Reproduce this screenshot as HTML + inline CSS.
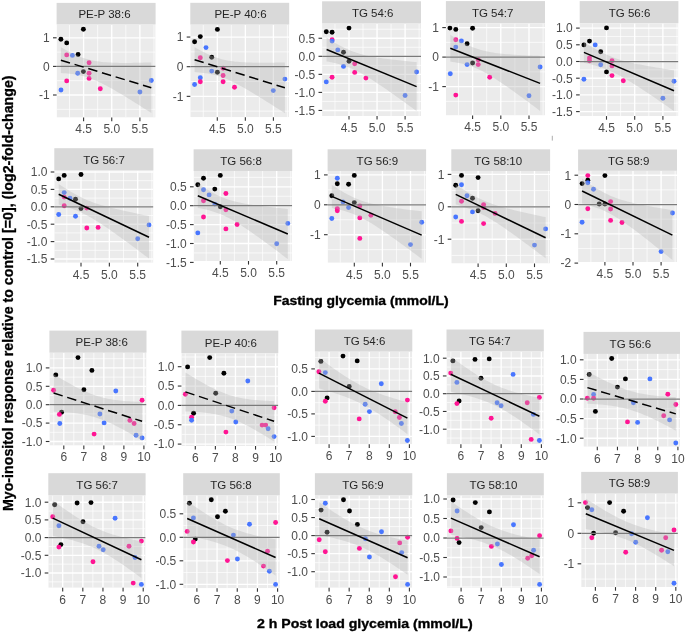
<!DOCTYPE html>
<html><head><meta charset="utf-8"><title>Myo-inositol response</title>
<style>html,body{margin:0;padding:0;background:#fff;width:685px;height:633px;overflow:hidden;font-family:"Liberation Sans",sans-serif}svg{display:block;will-change:transform}</style>
</head><body>
<svg width="685" height="633" viewBox="0 0 685 633" font-family="'Liberation Sans', sans-serif">
<rect width="685" height="633" fill="#fff"/>
<clipPath id="c0"><rect x="56.6" y="24.5" width="99" height="93.1"/></clipPath>
<g clip-path="url(#c0)">
<rect x="56.6" y="24.5" width="99" height="93.1" fill="#EBEBEB"/>
<line x1="69.52" y1="24.5" x2="69.52" y2="117.6" stroke="#fff" stroke-width="0.7"/>
<line x1="97.67" y1="24.5" x2="97.67" y2="117.6" stroke="#fff" stroke-width="0.7"/>
<line x1="125.83" y1="24.5" x2="125.83" y2="117.6" stroke="#fff" stroke-width="0.7"/>
<line x1="153.98" y1="24.5" x2="153.98" y2="117.6" stroke="#fff" stroke-width="0.7"/>
<line x1="56.6" y1="23.5" x2="155.6" y2="23.5" stroke="#fff" stroke-width="0.7"/>
<line x1="56.6" y1="52.1" x2="155.6" y2="52.1" stroke="#fff" stroke-width="0.7"/>
<line x1="56.6" y1="80.7" x2="155.6" y2="80.7" stroke="#fff" stroke-width="0.7"/>
<line x1="56.6" y1="109.3" x2="155.6" y2="109.3" stroke="#fff" stroke-width="0.7"/>
<line x1="56.6" y1="137.9" x2="155.6" y2="137.9" stroke="#fff" stroke-width="0.7"/>
<line x1="55.45" y1="24.5" x2="55.45" y2="117.6" stroke="#fff" stroke-width="1.35"/>
<line x1="83.6" y1="24.5" x2="83.6" y2="117.6" stroke="#fff" stroke-width="1.35"/>
<line x1="111.75" y1="24.5" x2="111.75" y2="117.6" stroke="#fff" stroke-width="1.35"/>
<line x1="139.9" y1="24.5" x2="139.9" y2="117.6" stroke="#fff" stroke-width="1.35"/>
<line x1="168.05" y1="24.5" x2="168.05" y2="117.6" stroke="#fff" stroke-width="1.35"/>
<line x1="56.6" y1="9.2" x2="155.6" y2="9.2" stroke="#fff" stroke-width="1.35"/>
<line x1="56.6" y1="37.8" x2="155.6" y2="37.8" stroke="#fff" stroke-width="1.35"/>
<line x1="56.6" y1="66.4" x2="155.6" y2="66.4" stroke="#fff" stroke-width="1.35"/>
<line x1="56.6" y1="95" x2="155.6" y2="95" stroke="#fff" stroke-width="1.35"/>
<line x1="56.6" y1="123.6" x2="155.6" y2="123.6" stroke="#fff" stroke-width="1.35"/>
<circle cx="60.9" cy="39.3" r="2.45" fill="#000000"/>
<circle cx="66.7" cy="42.9" r="2.45" fill="#000000"/>
<circle cx="83.4" cy="29.3" r="2.45" fill="#000000"/>
<circle cx="78.1" cy="54.5" r="2.45" fill="#000000"/>
<circle cx="66.7" cy="54.9" r="2.45" fill="#FF1493"/>
<circle cx="72.4" cy="55.4" r="2.45" fill="#4876FF"/>
<circle cx="89.1" cy="62.8" r="2.45" fill="#FF1493"/>
<circle cx="83.4" cy="71.6" r="2.45" fill="#000000"/>
<circle cx="77.7" cy="73.3" r="2.45" fill="#4876FF"/>
<circle cx="89.1" cy="73.3" r="2.45" fill="#FF1493"/>
<circle cx="89.1" cy="78.4" r="2.45" fill="#FF1493"/>
<circle cx="66.7" cy="80.9" r="2.45" fill="#FF1493"/>
<circle cx="61" cy="90" r="2.45" fill="#4876FF"/>
<circle cx="100.3" cy="88.8" r="2.45" fill="#FF1493"/>
<circle cx="139.9" cy="92" r="2.45" fill="#4876FF"/>
<circle cx="151.3" cy="80.5" r="2.45" fill="#4876FF"/>
<path d="M60.9 47.37 L63.16 48.62 L65.42 49.84 L67.68 51.03 L69.94 52.18 L72.2 53.28 L74.46 54.34 L76.72 55.34 L78.98 56.27 L81.24 57.15 L83.5 57.95 L85.76 58.68 L88.02 59.34 L90.28 59.93 L92.54 60.44 L94.8 60.89 L97.06 61.28 L99.32 61.61 L101.58 61.89 L103.84 62.13 L106.1 62.32 L108.36 62.48 L110.62 62.61 L112.88 62.71 L115.14 62.79 L117.4 62.85 L119.66 62.9 L121.92 62.92 L124.18 62.93 L126.44 62.93 L128.7 62.92 L130.96 62.9 L133.22 62.87 L135.48 62.83 L137.74 62.79 L140 62.74 L142.26 62.68 L144.52 62.62 L146.78 62.56 L149.04 62.49 L151.3 62.42 L151.3 112.98 L149.04 111.53 L146.78 110.09 L144.52 108.65 L142.26 107.22 L140 105.78 L137.74 104.36 L135.48 102.94 L133.22 101.53 L130.96 100.12 L128.7 98.73 L126.44 97.34 L124.18 95.97 L121.92 94.6 L119.66 93.25 L117.4 91.92 L115.14 90.61 L112.88 89.31 L110.62 88.04 L108.36 86.79 L106.1 85.58 L103.84 84.4 L101.58 83.26 L99.32 82.17 L97.06 81.12 L94.8 80.13 L92.54 79.21 L90.28 78.35 L88.02 77.56 L85.76 76.84 L83.5 76.2 L81.24 75.63 L78.98 75.13 L76.72 74.69 L74.46 74.31 L72.2 73.99 L69.94 73.72 L67.68 73.5 L65.42 73.31 L63.16 73.15 L60.9 73.03 Z" fill="#B4B4B4" fill-opacity="0.35"/>
<line x1="56.6" y1="66.4" x2="155.6" y2="66.4" stroke="#7A7A7A" stroke-width="1.25"/>
<line x1="60.9" y1="60.2" x2="151.3" y2="87.7" stroke="#000" stroke-width="1.5" stroke-dasharray="9.5 4.8"/>
</g>
<rect x="56.6" y="2.9" width="99" height="21.6" fill="#D9D9D9"/>
<text x="104.5" y="18.4" font-size="11.5" fill="#262626" text-anchor="middle">PE-P 38:6</text>
<line x1="53" y1="37.8" x2="56.6" y2="37.8" stroke="#333333" stroke-width="1.1"/>
<text x="49.7" y="42.1" font-size="12" fill="#4D4D4D" text-anchor="end">1</text>
<line x1="53" y1="66.4" x2="56.6" y2="66.4" stroke="#333333" stroke-width="1.1"/>
<text x="49.7" y="70.7" font-size="12" fill="#4D4D4D" text-anchor="end">0</text>
<line x1="53" y1="95" x2="56.6" y2="95" stroke="#333333" stroke-width="1.1"/>
<text x="49.7" y="99.3" font-size="12" fill="#4D4D4D" text-anchor="end">-1</text>
<line x1="83.6" y1="117.6" x2="83.6" y2="121.2" stroke="#333333" stroke-width="1.1"/>
<text x="83.6" y="133.4" font-size="12" fill="#4D4D4D" text-anchor="middle">4.5</text>
<line x1="111.75" y1="117.6" x2="111.75" y2="121.2" stroke="#333333" stroke-width="1.1"/>
<text x="111.75" y="133.4" font-size="12" fill="#4D4D4D" text-anchor="middle">5.0</text>
<line x1="139.9" y1="117.6" x2="139.9" y2="121.2" stroke="#333333" stroke-width="1.1"/>
<text x="139.9" y="133.4" font-size="12" fill="#4D4D4D" text-anchor="middle">5.5</text>
<clipPath id="c1"><rect x="190.3" y="24.6" width="98.9" height="92.6"/></clipPath>
<g clip-path="url(#c1)">
<rect x="190.3" y="24.6" width="98.9" height="92.6" fill="#EBEBEB"/>
<line x1="203.28" y1="24.6" x2="203.28" y2="117.2" stroke="#fff" stroke-width="0.7"/>
<line x1="231.32" y1="24.6" x2="231.32" y2="117.2" stroke="#fff" stroke-width="0.7"/>
<line x1="259.38" y1="24.6" x2="259.38" y2="117.2" stroke="#fff" stroke-width="0.7"/>
<line x1="287.42" y1="24.6" x2="287.42" y2="117.2" stroke="#fff" stroke-width="0.7"/>
<line x1="190.3" y1="22.23" x2="289.2" y2="22.23" stroke="#fff" stroke-width="0.7"/>
<line x1="190.3" y1="51.88" x2="289.2" y2="51.88" stroke="#fff" stroke-width="0.7"/>
<line x1="190.3" y1="81.53" x2="289.2" y2="81.53" stroke="#fff" stroke-width="0.7"/>
<line x1="190.3" y1="111.17" x2="289.2" y2="111.17" stroke="#fff" stroke-width="0.7"/>
<line x1="190.3" y1="140.82" x2="289.2" y2="140.82" stroke="#fff" stroke-width="0.7"/>
<line x1="189.25" y1="24.6" x2="189.25" y2="117.2" stroke="#fff" stroke-width="1.35"/>
<line x1="217.3" y1="24.6" x2="217.3" y2="117.2" stroke="#fff" stroke-width="1.35"/>
<line x1="245.35" y1="24.6" x2="245.35" y2="117.2" stroke="#fff" stroke-width="1.35"/>
<line x1="273.4" y1="24.6" x2="273.4" y2="117.2" stroke="#fff" stroke-width="1.35"/>
<line x1="301.45" y1="24.6" x2="301.45" y2="117.2" stroke="#fff" stroke-width="1.35"/>
<line x1="190.3" y1="7.4" x2="289.2" y2="7.4" stroke="#fff" stroke-width="1.35"/>
<line x1="190.3" y1="37.05" x2="289.2" y2="37.05" stroke="#fff" stroke-width="1.35"/>
<line x1="190.3" y1="66.7" x2="289.2" y2="66.7" stroke="#fff" stroke-width="1.35"/>
<line x1="190.3" y1="96.35" x2="289.2" y2="96.35" stroke="#fff" stroke-width="1.35"/>
<line x1="190.3" y1="126" x2="289.2" y2="126" stroke="#fff" stroke-width="1.35"/>
<circle cx="194.6" cy="41.7" r="2.45" fill="#000000"/>
<circle cx="200.3" cy="36.6" r="2.45" fill="#000000"/>
<circle cx="217.4" cy="29.4" r="2.45" fill="#000000"/>
<circle cx="206" cy="47.6" r="2.45" fill="#4876FF"/>
<circle cx="200.3" cy="57.8" r="2.45" fill="#FF1493"/>
<circle cx="211.7" cy="57.3" r="2.45" fill="#000000"/>
<circle cx="211.7" cy="71.1" r="2.45" fill="#4876FF"/>
<circle cx="217.4" cy="72.2" r="2.45" fill="#000000"/>
<circle cx="223.1" cy="68.2" r="2.45" fill="#FF1493"/>
<circle cx="223.1" cy="75.5" r="2.45" fill="#FF1493"/>
<circle cx="223.1" cy="81.7" r="2.45" fill="#FF1493"/>
<circle cx="200.3" cy="77.7" r="2.45" fill="#4876FF"/>
<circle cx="200.3" cy="81.7" r="2.45" fill="#FF1493"/>
<circle cx="194.6" cy="84.5" r="2.45" fill="#4876FF"/>
<circle cx="234.5" cy="87.2" r="2.45" fill="#FF1493"/>
<circle cx="273.3" cy="90.6" r="2.45" fill="#4876FF"/>
<circle cx="284.9" cy="79.1" r="2.45" fill="#4876FF"/>
<path d="M194.6 47.31 L196.86 48.56 L199.11 49.78 L201.37 50.96 L203.63 52.11 L205.89 53.21 L208.14 54.25 L210.4 55.24 L212.66 56.17 L214.92 57.02 L217.17 57.81 L219.43 58.52 L221.69 59.16 L223.95 59.73 L226.2 60.23 L228.46 60.66 L230.72 61.04 L232.98 61.36 L235.23 61.63 L237.49 61.86 L239.75 62.06 L242.01 62.22 L244.26 62.35 L246.52 62.46 L248.78 62.54 L251.04 62.61 L253.29 62.66 L255.55 62.7 L257.81 62.72 L260.07 62.74 L262.32 62.74 L264.58 62.73 L266.84 62.72 L269.1 62.69 L271.35 62.67 L273.61 62.63 L275.87 62.59 L278.13 62.55 L280.38 62.5 L282.64 62.45 L284.9 62.4 L284.9 113.2 L282.64 111.74 L280.38 110.29 L278.13 108.83 L275.87 107.39 L273.61 105.94 L271.35 104.5 L269.1 103.07 L266.84 101.64 L264.58 100.22 L262.32 98.81 L260.07 97.41 L257.81 96.02 L255.55 94.64 L253.29 93.27 L251.04 91.91 L248.78 90.58 L246.52 89.26 L244.26 87.96 L242.01 86.69 L239.75 85.44 L237.49 84.23 L235.23 83.06 L232.98 81.93 L230.72 80.84 L228.46 79.81 L226.2 78.84 L223.95 77.94 L221.69 77.1 L219.43 76.33 L217.17 75.64 L214.92 75.02 L212.66 74.47 L210.4 73.99 L208.14 73.58 L205.89 73.22 L203.63 72.91 L201.37 72.65 L199.11 72.43 L196.86 72.25 L194.6 72.09 Z" fill="#B4B4B4" fill-opacity="0.35"/>
<line x1="190.3" y1="66.7" x2="289.2" y2="66.7" stroke="#7A7A7A" stroke-width="1.25"/>
<line x1="194.6" y1="59.7" x2="284.9" y2="87.8" stroke="#000" stroke-width="1.5" stroke-dasharray="9.5 4.8"/>
</g>
<rect x="190.3" y="2.8" width="98.9" height="21.8" fill="#D9D9D9"/>
<text x="240.5" y="18.4" font-size="11.5" fill="#262626" text-anchor="middle">PE-P 40:6</text>
<line x1="186.7" y1="37.05" x2="190.3" y2="37.05" stroke="#333333" stroke-width="1.1"/>
<text x="183.4" y="41.35" font-size="12" fill="#4D4D4D" text-anchor="end">1</text>
<line x1="186.7" y1="66.7" x2="190.3" y2="66.7" stroke="#333333" stroke-width="1.1"/>
<text x="183.4" y="71" font-size="12" fill="#4D4D4D" text-anchor="end">0</text>
<line x1="186.7" y1="96.35" x2="190.3" y2="96.35" stroke="#333333" stroke-width="1.1"/>
<text x="183.4" y="100.65" font-size="12" fill="#4D4D4D" text-anchor="end">-1</text>
<line x1="217.3" y1="117.2" x2="217.3" y2="120.8" stroke="#333333" stroke-width="1.1"/>
<text x="217.3" y="133" font-size="12" fill="#4D4D4D" text-anchor="middle">4.5</text>
<line x1="245.35" y1="117.2" x2="245.35" y2="120.8" stroke="#333333" stroke-width="1.1"/>
<text x="245.35" y="133" font-size="12" fill="#4D4D4D" text-anchor="middle">5.0</text>
<line x1="273.4" y1="117.2" x2="273.4" y2="120.8" stroke="#333333" stroke-width="1.1"/>
<text x="273.4" y="133" font-size="12" fill="#4D4D4D" text-anchor="middle">5.5</text>
<clipPath id="c2"><rect x="322.1" y="23.5" width="98.9" height="92.5"/></clipPath>
<g clip-path="url(#c2)">
<rect x="322.1" y="23.5" width="98.9" height="92.5" fill="#EBEBEB"/>
<line x1="334.98" y1="23.5" x2="334.98" y2="116" stroke="#fff" stroke-width="0.7"/>
<line x1="363.02" y1="23.5" x2="363.02" y2="116" stroke="#fff" stroke-width="0.7"/>
<line x1="391.08" y1="23.5" x2="391.08" y2="116" stroke="#fff" stroke-width="0.7"/>
<line x1="419.12" y1="23.5" x2="419.12" y2="116" stroke="#fff" stroke-width="0.7"/>
<line x1="322.1" y1="29.22" x2="421" y2="29.22" stroke="#fff" stroke-width="0.7"/>
<line x1="322.1" y1="47.27" x2="421" y2="47.27" stroke="#fff" stroke-width="0.7"/>
<line x1="322.1" y1="65.33" x2="421" y2="65.33" stroke="#fff" stroke-width="0.7"/>
<line x1="322.1" y1="83.38" x2="421" y2="83.38" stroke="#fff" stroke-width="0.7"/>
<line x1="322.1" y1="101.42" x2="421" y2="101.42" stroke="#fff" stroke-width="0.7"/>
<line x1="322.1" y1="119.47" x2="421" y2="119.47" stroke="#fff" stroke-width="0.7"/>
<line x1="322.1" y1="137.53" x2="421" y2="137.53" stroke="#fff" stroke-width="0.7"/>
<line x1="320.95" y1="23.5" x2="320.95" y2="116" stroke="#fff" stroke-width="1.35"/>
<line x1="349" y1="23.5" x2="349" y2="116" stroke="#fff" stroke-width="1.35"/>
<line x1="377.05" y1="23.5" x2="377.05" y2="116" stroke="#fff" stroke-width="1.35"/>
<line x1="405.1" y1="23.5" x2="405.1" y2="116" stroke="#fff" stroke-width="1.35"/>
<line x1="433.15" y1="23.5" x2="433.15" y2="116" stroke="#fff" stroke-width="1.35"/>
<line x1="322.1" y1="20.2" x2="421" y2="20.2" stroke="#fff" stroke-width="1.35"/>
<line x1="322.1" y1="38.25" x2="421" y2="38.25" stroke="#fff" stroke-width="1.35"/>
<line x1="322.1" y1="56.3" x2="421" y2="56.3" stroke="#fff" stroke-width="1.35"/>
<line x1="322.1" y1="74.35" x2="421" y2="74.35" stroke="#fff" stroke-width="1.35"/>
<line x1="322.1" y1="92.4" x2="421" y2="92.4" stroke="#fff" stroke-width="1.35"/>
<line x1="322.1" y1="110.45" x2="421" y2="110.45" stroke="#fff" stroke-width="1.35"/>
<line x1="322.1" y1="128.5" x2="421" y2="128.5" stroke="#fff" stroke-width="1.35"/>
<circle cx="326.3" cy="31.8" r="2.45" fill="#000000"/>
<circle cx="332.1" cy="32.2" r="2.45" fill="#000000"/>
<circle cx="349" cy="28.1" r="2.45" fill="#000000"/>
<circle cx="332.1" cy="39.8" r="2.45" fill="#FF1493"/>
<circle cx="332.1" cy="41.1" r="2.45" fill="#4876FF"/>
<circle cx="337.8" cy="49.9" r="2.45" fill="#4876FF"/>
<circle cx="343.5" cy="52.3" r="2.45" fill="#000000"/>
<circle cx="349" cy="61.2" r="2.45" fill="#000000"/>
<circle cx="354.7" cy="63.7" r="2.45" fill="#FF1493"/>
<circle cx="343.5" cy="66.4" r="2.45" fill="#4876FF"/>
<circle cx="354.7" cy="72.4" r="2.45" fill="#FF1493"/>
<circle cx="332.1" cy="77.2" r="2.45" fill="#FF1493"/>
<circle cx="365.9" cy="78.1" r="2.45" fill="#FF1493"/>
<circle cx="326.3" cy="81.9" r="2.45" fill="#4876FF"/>
<circle cx="405.1" cy="95.5" r="2.45" fill="#4876FF"/>
<circle cx="416.6" cy="72" r="2.45" fill="#4876FF"/>
<path d="M326.6 37.59 L328.85 39.03 L331.1 40.43 L333.35 41.8 L335.6 43.13 L337.85 44.42 L340.1 45.65 L342.35 46.83 L344.6 47.95 L346.85 49.01 L349.1 50 L351.35 50.92 L353.6 51.78 L355.85 52.57 L358.1 53.29 L360.35 53.96 L362.6 54.57 L364.85 55.13 L367.1 55.65 L369.35 56.13 L371.6 56.57 L373.85 56.99 L376.1 57.37 L378.35 57.74 L380.6 58.08 L382.85 58.41 L385.1 58.71 L387.35 59.01 L389.6 59.29 L391.85 59.57 L394.1 59.83 L396.35 60.08 L398.6 60.33 L400.85 60.57 L403.1 60.8 L405.35 61.03 L407.6 61.25 L409.85 61.47 L412.1 61.68 L414.35 61.89 L416.6 62.1 L416.6 111.1 L414.35 109.45 L412.1 107.81 L409.85 106.16 L407.6 104.53 L405.35 102.9 L403.1 101.27 L400.85 99.65 L398.6 98.03 L396.35 96.42 L394.1 94.82 L391.85 93.23 L389.6 91.65 L387.35 90.07 L385.1 88.52 L382.85 86.97 L380.6 85.44 L378.35 83.93 L376.1 82.44 L373.85 80.97 L371.6 79.53 L369.35 78.12 L367.1 76.74 L364.85 75.4 L362.6 74.11 L360.35 72.87 L358.1 71.68 L355.85 70.55 L353.6 69.48 L351.35 68.48 L349.1 67.55 L346.85 66.68 L344.6 65.89 L342.35 65.15 L340.1 64.48 L337.85 63.86 L335.6 63.29 L333.35 62.76 L331.1 62.28 L328.85 61.83 L326.6 61.41 Z" fill="#B4B4B4" fill-opacity="0.35"/>
<line x1="322.1" y1="56.3" x2="421" y2="56.3" stroke="#7A7A7A" stroke-width="1.25"/>
<line x1="326.6" y1="49.5" x2="416.6" y2="86.6" stroke="#000" stroke-width="1.5"/>
</g>
<rect x="322.1" y="1.3" width="98.9" height="22.2" fill="#D9D9D9"/>
<text x="372.7" y="17.1" font-size="11.5" fill="#262626" text-anchor="middle">TG 54:6</text>
<line x1="318.5" y1="38.25" x2="322.1" y2="38.25" stroke="#333333" stroke-width="1.1"/>
<text x="315.2" y="42.55" font-size="12" fill="#4D4D4D" text-anchor="end">0.5</text>
<line x1="318.5" y1="56.3" x2="322.1" y2="56.3" stroke="#333333" stroke-width="1.1"/>
<text x="315.2" y="60.6" font-size="12" fill="#4D4D4D" text-anchor="end">0.0</text>
<line x1="318.5" y1="74.35" x2="322.1" y2="74.35" stroke="#333333" stroke-width="1.1"/>
<text x="315.2" y="78.65" font-size="12" fill="#4D4D4D" text-anchor="end">-0.5</text>
<line x1="318.5" y1="92.4" x2="322.1" y2="92.4" stroke="#333333" stroke-width="1.1"/>
<text x="315.2" y="96.7" font-size="12" fill="#4D4D4D" text-anchor="end">-1.0</text>
<line x1="318.5" y1="110.45" x2="322.1" y2="110.45" stroke="#333333" stroke-width="1.1"/>
<text x="315.2" y="114.75" font-size="12" fill="#4D4D4D" text-anchor="end">-1.5</text>
<line x1="349" y1="116" x2="349" y2="119.6" stroke="#333333" stroke-width="1.1"/>
<text x="349" y="131.8" font-size="12" fill="#4D4D4D" text-anchor="middle">4.5</text>
<line x1="377.05" y1="116" x2="377.05" y2="119.6" stroke="#333333" stroke-width="1.1"/>
<text x="377.05" y="131.8" font-size="12" fill="#4D4D4D" text-anchor="middle">5.0</text>
<line x1="405.1" y1="116" x2="405.1" y2="119.6" stroke="#333333" stroke-width="1.1"/>
<text x="405.1" y="131.8" font-size="12" fill="#4D4D4D" text-anchor="middle">5.5</text>
<clipPath id="c3"><rect x="445.9" y="23.2" width="99.1" height="92.3"/></clipPath>
<g clip-path="url(#c3)">
<rect x="445.9" y="23.2" width="99.1" height="92.3" fill="#EBEBEB"/>
<line x1="458.5" y1="23.2" x2="458.5" y2="115.5" stroke="#fff" stroke-width="0.7"/>
<line x1="486.7" y1="23.2" x2="486.7" y2="115.5" stroke="#fff" stroke-width="0.7"/>
<line x1="514.9" y1="23.2" x2="514.9" y2="115.5" stroke="#fff" stroke-width="0.7"/>
<line x1="543.1" y1="23.2" x2="543.1" y2="115.5" stroke="#fff" stroke-width="0.7"/>
<line x1="445.9" y1="12.85" x2="545" y2="12.85" stroke="#fff" stroke-width="0.7"/>
<line x1="445.9" y1="42.35" x2="545" y2="42.35" stroke="#fff" stroke-width="0.7"/>
<line x1="445.9" y1="71.85" x2="545" y2="71.85" stroke="#fff" stroke-width="0.7"/>
<line x1="445.9" y1="101.35" x2="545" y2="101.35" stroke="#fff" stroke-width="0.7"/>
<line x1="445.9" y1="130.85" x2="545" y2="130.85" stroke="#fff" stroke-width="0.7"/>
<line x1="444.4" y1="23.2" x2="444.4" y2="115.5" stroke="#fff" stroke-width="1.35"/>
<line x1="472.6" y1="23.2" x2="472.6" y2="115.5" stroke="#fff" stroke-width="1.35"/>
<line x1="500.8" y1="23.2" x2="500.8" y2="115.5" stroke="#fff" stroke-width="1.35"/>
<line x1="529" y1="23.2" x2="529" y2="115.5" stroke="#fff" stroke-width="1.35"/>
<line x1="557.2" y1="23.2" x2="557.2" y2="115.5" stroke="#fff" stroke-width="1.35"/>
<line x1="445.9" y1="-1.9" x2="545" y2="-1.9" stroke="#fff" stroke-width="1.35"/>
<line x1="445.9" y1="27.6" x2="545" y2="27.6" stroke="#fff" stroke-width="1.35"/>
<line x1="445.9" y1="57.1" x2="545" y2="57.1" stroke="#fff" stroke-width="1.35"/>
<line x1="445.9" y1="86.6" x2="545" y2="86.6" stroke="#fff" stroke-width="1.35"/>
<line x1="445.9" y1="116.1" x2="545" y2="116.1" stroke="#fff" stroke-width="1.35"/>
<circle cx="449.9" cy="28.1" r="2.45" fill="#000000"/>
<circle cx="455.8" cy="29.4" r="2.45" fill="#000000"/>
<circle cx="472.6" cy="28.3" r="2.45" fill="#000000"/>
<circle cx="467.1" cy="43.8" r="2.45" fill="#000000"/>
<circle cx="455.8" cy="39.8" r="2.45" fill="#FF1493"/>
<circle cx="461.4" cy="40.9" r="2.45" fill="#4876FF"/>
<circle cx="455.8" cy="47.1" r="2.45" fill="#4876FF"/>
<circle cx="478.2" cy="59.7" r="2.45" fill="#FF1493"/>
<circle cx="472.6" cy="63" r="2.45" fill="#000000"/>
<circle cx="478.2" cy="64.6" r="2.45" fill="#FF1493"/>
<circle cx="467.1" cy="64.6" r="2.45" fill="#4876FF"/>
<circle cx="450.3" cy="73.7" r="2.45" fill="#4876FF"/>
<circle cx="489.7" cy="77.2" r="2.45" fill="#FF1493"/>
<circle cx="455.8" cy="95.1" r="2.45" fill="#FF1493"/>
<circle cx="529" cy="95.8" r="2.45" fill="#4876FF"/>
<circle cx="540.1" cy="67" r="2.45" fill="#4876FF"/>
<path d="M450.3 34.8 L452.55 36.26 L454.79 37.67 L457.04 39.05 L459.28 40.38 L461.53 41.66 L463.77 42.89 L466.01 44.05 L468.26 45.15 L470.5 46.17 L472.75 47.13 L475 48 L477.24 48.8 L479.49 49.52 L481.73 50.18 L483.98 50.76 L486.22 51.29 L488.47 51.76 L490.71 52.18 L492.96 52.56 L495.2 52.9 L497.44 53.2 L499.69 53.47 L501.94 53.72 L504.18 53.94 L506.43 54.15 L508.67 54.33 L510.92 54.51 L513.16 54.66 L515.4 54.81 L517.65 54.94 L519.89 55.06 L522.14 55.18 L524.38 55.29 L526.63 55.39 L528.88 55.48 L531.12 55.57 L533.37 55.65 L535.61 55.73 L537.86 55.81 L540.1 55.88 L540.1 110.92 L537.86 109.23 L535.61 107.55 L533.37 105.87 L531.12 104.19 L528.88 102.52 L526.63 100.85 L524.38 99.19 L522.14 97.54 L519.89 95.9 L517.65 94.26 L515.4 92.63 L513.16 91.02 L510.92 89.41 L508.67 87.83 L506.43 86.25 L504.18 84.7 L501.94 83.16 L499.69 81.65 L497.44 80.16 L495.2 78.7 L492.96 77.28 L490.71 75.9 L488.47 74.56 L486.22 73.27 L483.98 72.04 L481.73 70.86 L479.49 69.76 L477.24 68.72 L475 67.76 L472.75 66.87 L470.5 66.07 L468.26 65.33 L466.01 64.67 L463.77 64.07 L461.53 63.54 L459.28 63.06 L457.04 62.63 L454.79 62.25 L452.55 61.9 L450.3 61.6 Z" fill="#B4B4B4" fill-opacity="0.35"/>
<line x1="445.9" y1="57.1" x2="545" y2="57.1" stroke="#7A7A7A" stroke-width="1.25"/>
<line x1="450.3" y1="48.2" x2="540.1" y2="83.4" stroke="#000" stroke-width="1.5"/>
</g>
<rect x="445.9" y="1.1" width="99.1" height="22.1" fill="#D9D9D9"/>
<text x="492.7" y="16.85" font-size="11.5" fill="#262626" text-anchor="middle">TG 54:7</text>
<line x1="442.3" y1="27.6" x2="445.9" y2="27.6" stroke="#333333" stroke-width="1.1"/>
<text x="439" y="31.9" font-size="12" fill="#4D4D4D" text-anchor="end">1</text>
<line x1="442.3" y1="57.1" x2="445.9" y2="57.1" stroke="#333333" stroke-width="1.1"/>
<text x="439" y="61.4" font-size="12" fill="#4D4D4D" text-anchor="end">0</text>
<line x1="442.3" y1="86.6" x2="445.9" y2="86.6" stroke="#333333" stroke-width="1.1"/>
<text x="439" y="90.9" font-size="12" fill="#4D4D4D" text-anchor="end">-1</text>
<line x1="472.6" y1="115.5" x2="472.6" y2="119.1" stroke="#333333" stroke-width="1.1"/>
<text x="472.6" y="131.3" font-size="12" fill="#4D4D4D" text-anchor="middle">4.5</text>
<line x1="500.8" y1="115.5" x2="500.8" y2="119.1" stroke="#333333" stroke-width="1.1"/>
<text x="500.8" y="131.3" font-size="12" fill="#4D4D4D" text-anchor="middle">5.0</text>
<line x1="529" y1="115.5" x2="529" y2="119.1" stroke="#333333" stroke-width="1.1"/>
<text x="529" y="131.3" font-size="12" fill="#4D4D4D" text-anchor="middle">5.5</text>
<clipPath id="c4"><rect x="579.7" y="23.2" width="98.7" height="92.9"/></clipPath>
<g clip-path="url(#c4)">
<rect x="579.7" y="23.2" width="98.7" height="92.9" fill="#EBEBEB"/>
<line x1="592.4" y1="23.2" x2="592.4" y2="116.1" stroke="#fff" stroke-width="0.7"/>
<line x1="620.6" y1="23.2" x2="620.6" y2="116.1" stroke="#fff" stroke-width="0.7"/>
<line x1="648.8" y1="23.2" x2="648.8" y2="116.1" stroke="#fff" stroke-width="0.7"/>
<line x1="677" y1="23.2" x2="677" y2="116.1" stroke="#fff" stroke-width="0.7"/>
<line x1="579.7" y1="19.75" x2="678.4" y2="19.75" stroke="#fff" stroke-width="0.7"/>
<line x1="579.7" y1="36.45" x2="678.4" y2="36.45" stroke="#fff" stroke-width="0.7"/>
<line x1="579.7" y1="53.15" x2="678.4" y2="53.15" stroke="#fff" stroke-width="0.7"/>
<line x1="579.7" y1="69.85" x2="678.4" y2="69.85" stroke="#fff" stroke-width="0.7"/>
<line x1="579.7" y1="86.55" x2="678.4" y2="86.55" stroke="#fff" stroke-width="0.7"/>
<line x1="579.7" y1="103.25" x2="678.4" y2="103.25" stroke="#fff" stroke-width="0.7"/>
<line x1="579.7" y1="119.95" x2="678.4" y2="119.95" stroke="#fff" stroke-width="0.7"/>
<line x1="579.7" y1="136.65" x2="678.4" y2="136.65" stroke="#fff" stroke-width="0.7"/>
<line x1="578.3" y1="23.2" x2="578.3" y2="116.1" stroke="#fff" stroke-width="1.35"/>
<line x1="606.5" y1="23.2" x2="606.5" y2="116.1" stroke="#fff" stroke-width="1.35"/>
<line x1="634.7" y1="23.2" x2="634.7" y2="116.1" stroke="#fff" stroke-width="1.35"/>
<line x1="662.9" y1="23.2" x2="662.9" y2="116.1" stroke="#fff" stroke-width="1.35"/>
<line x1="691.1" y1="23.2" x2="691.1" y2="116.1" stroke="#fff" stroke-width="1.35"/>
<line x1="579.7" y1="11.4" x2="678.4" y2="11.4" stroke="#fff" stroke-width="1.35"/>
<line x1="579.7" y1="28.1" x2="678.4" y2="28.1" stroke="#fff" stroke-width="1.35"/>
<line x1="579.7" y1="44.8" x2="678.4" y2="44.8" stroke="#fff" stroke-width="1.35"/>
<line x1="579.7" y1="61.5" x2="678.4" y2="61.5" stroke="#fff" stroke-width="1.35"/>
<line x1="579.7" y1="78.2" x2="678.4" y2="78.2" stroke="#fff" stroke-width="1.35"/>
<line x1="579.7" y1="94.9" x2="678.4" y2="94.9" stroke="#fff" stroke-width="1.35"/>
<line x1="579.7" y1="111.6" x2="678.4" y2="111.6" stroke="#fff" stroke-width="1.35"/>
<line x1="579.7" y1="128.3" x2="678.4" y2="128.3" stroke="#fff" stroke-width="1.35"/>
<circle cx="583.9" cy="44.9" r="2.45" fill="#000000"/>
<circle cx="589.5" cy="41.1" r="2.45" fill="#000000"/>
<circle cx="606.5" cy="27.9" r="2.45" fill="#000000"/>
<circle cx="595.2" cy="44.9" r="2.45" fill="#4876FF"/>
<circle cx="600.7" cy="51.8" r="2.45" fill="#000000"/>
<circle cx="589.5" cy="58" r="2.45" fill="#FF1493"/>
<circle cx="589.5" cy="60.8" r="2.45" fill="#FF1493"/>
<circle cx="612" cy="60.8" r="2.45" fill="#FF1493"/>
<circle cx="612" cy="65.9" r="2.45" fill="#FF1493"/>
<circle cx="600.7" cy="64.8" r="2.45" fill="#4876FF"/>
<circle cx="606.5" cy="71.9" r="2.45" fill="#000000"/>
<circle cx="612" cy="75.6" r="2.45" fill="#FF1493"/>
<circle cx="623.3" cy="80.7" r="2.45" fill="#FF1493"/>
<circle cx="583.9" cy="79.2" r="2.45" fill="#4876FF"/>
<circle cx="662.9" cy="98.2" r="2.45" fill="#4876FF"/>
<circle cx="674" cy="81.2" r="2.45" fill="#4876FF"/>
<path d="M583.9 42.06 L586.15 43.47 L588.4 44.85 L590.66 46.21 L592.91 47.54 L595.16 48.83 L597.41 50.08 L599.67 51.29 L601.92 52.45 L604.17 53.56 L606.42 54.61 L608.68 55.6 L610.93 56.53 L613.18 57.41 L615.43 58.23 L617.69 58.99 L619.94 59.71 L622.19 60.38 L624.44 61.01 L626.7 61.6 L628.95 62.16 L631.2 62.7 L633.46 63.21 L635.71 63.69 L637.96 64.16 L640.21 64.61 L642.47 65.05 L644.72 65.48 L646.97 65.89 L649.22 66.3 L651.48 66.69 L653.73 67.08 L655.98 67.46 L658.23 67.83 L660.49 68.2 L662.74 68.57 L664.99 68.93 L667.24 69.28 L669.5 69.63 L671.75 69.98 L674 70.33 L674 111.07 L671.75 109.5 L669.5 107.94 L667.24 106.37 L664.99 104.81 L662.74 103.26 L660.49 101.71 L658.23 100.16 L655.98 98.62 L653.73 97.09 L651.48 95.56 L649.22 94.04 L646.97 92.53 L644.72 91.03 L642.47 89.54 L640.21 88.06 L637.96 86.6 L635.71 85.15 L633.46 83.72 L631.2 82.32 L628.95 80.94 L626.7 79.58 L624.44 78.26 L622.19 76.98 L619.94 75.73 L617.69 74.53 L615.43 73.38 L613.18 72.29 L610.93 71.25 L608.68 70.27 L606.42 69.34 L604.17 68.48 L601.92 67.67 L599.67 66.91 L597.41 66.21 L595.16 65.54 L592.91 64.92 L590.66 64.33 L588.4 63.78 L586.15 63.25 L583.9 62.74 Z" fill="#B4B4B4" fill-opacity="0.35"/>
<line x1="579.7" y1="61.5" x2="678.4" y2="61.5" stroke="#7A7A7A" stroke-width="1.25"/>
<line x1="583.9" y1="52.4" x2="674" y2="90.7" stroke="#000" stroke-width="1.5"/>
</g>
<rect x="579.7" y="1.1" width="98.7" height="22.1" fill="#D9D9D9"/>
<text x="629.6" y="16.85" font-size="11.5" fill="#262626" text-anchor="middle">TG 56:6</text>
<line x1="576.1" y1="28.1" x2="579.7" y2="28.1" stroke="#333333" stroke-width="1.1"/>
<text x="572.8" y="32.4" font-size="12" fill="#4D4D4D" text-anchor="end">1.0</text>
<line x1="576.1" y1="44.8" x2="579.7" y2="44.8" stroke="#333333" stroke-width="1.1"/>
<text x="572.8" y="49.1" font-size="12" fill="#4D4D4D" text-anchor="end">0.5</text>
<line x1="576.1" y1="61.5" x2="579.7" y2="61.5" stroke="#333333" stroke-width="1.1"/>
<text x="572.8" y="65.8" font-size="12" fill="#4D4D4D" text-anchor="end">0.0</text>
<line x1="576.1" y1="78.2" x2="579.7" y2="78.2" stroke="#333333" stroke-width="1.1"/>
<text x="572.8" y="82.5" font-size="12" fill="#4D4D4D" text-anchor="end">-0.5</text>
<line x1="576.1" y1="94.9" x2="579.7" y2="94.9" stroke="#333333" stroke-width="1.1"/>
<text x="572.8" y="99.2" font-size="12" fill="#4D4D4D" text-anchor="end">-1.0</text>
<line x1="576.1" y1="111.6" x2="579.7" y2="111.6" stroke="#333333" stroke-width="1.1"/>
<text x="572.8" y="115.9" font-size="12" fill="#4D4D4D" text-anchor="end">-1.5</text>
<line x1="606.5" y1="116.1" x2="606.5" y2="119.7" stroke="#333333" stroke-width="1.1"/>
<text x="606.5" y="131.9" font-size="12" fill="#4D4D4D" text-anchor="middle">4.5</text>
<line x1="634.7" y1="116.1" x2="634.7" y2="119.7" stroke="#333333" stroke-width="1.1"/>
<text x="634.7" y="131.9" font-size="12" fill="#4D4D4D" text-anchor="middle">5.0</text>
<line x1="662.9" y1="116.1" x2="662.9" y2="119.7" stroke="#333333" stroke-width="1.1"/>
<text x="662.9" y="131.9" font-size="12" fill="#4D4D4D" text-anchor="middle">5.5</text>
<clipPath id="c5"><rect x="54.3" y="170.5" width="99.1" height="92.3"/></clipPath>
<g clip-path="url(#c5)">
<rect x="54.3" y="170.5" width="99.1" height="92.3" fill="#EBEBEB"/>
<line x1="66.83" y1="170.5" x2="66.83" y2="262.8" stroke="#fff" stroke-width="0.7"/>
<line x1="95.17" y1="170.5" x2="95.17" y2="262.8" stroke="#fff" stroke-width="0.7"/>
<line x1="123.52" y1="170.5" x2="123.52" y2="262.8" stroke="#fff" stroke-width="0.7"/>
<line x1="151.88" y1="170.5" x2="151.88" y2="262.8" stroke="#fff" stroke-width="0.7"/>
<line x1="54.3" y1="163.3" x2="153.4" y2="163.3" stroke="#fff" stroke-width="0.7"/>
<line x1="54.3" y1="180.7" x2="153.4" y2="180.7" stroke="#fff" stroke-width="0.7"/>
<line x1="54.3" y1="198.1" x2="153.4" y2="198.1" stroke="#fff" stroke-width="0.7"/>
<line x1="54.3" y1="215.5" x2="153.4" y2="215.5" stroke="#fff" stroke-width="0.7"/>
<line x1="54.3" y1="232.9" x2="153.4" y2="232.9" stroke="#fff" stroke-width="0.7"/>
<line x1="54.3" y1="250.3" x2="153.4" y2="250.3" stroke="#fff" stroke-width="0.7"/>
<line x1="54.3" y1="267.7" x2="153.4" y2="267.7" stroke="#fff" stroke-width="0.7"/>
<line x1="54.3" y1="285.1" x2="153.4" y2="285.1" stroke="#fff" stroke-width="0.7"/>
<line x1="52.65" y1="170.5" x2="52.65" y2="262.8" stroke="#fff" stroke-width="1.35"/>
<line x1="81" y1="170.5" x2="81" y2="262.8" stroke="#fff" stroke-width="1.35"/>
<line x1="109.35" y1="170.5" x2="109.35" y2="262.8" stroke="#fff" stroke-width="1.35"/>
<line x1="137.7" y1="170.5" x2="137.7" y2="262.8" stroke="#fff" stroke-width="1.35"/>
<line x1="166.05" y1="170.5" x2="166.05" y2="262.8" stroke="#fff" stroke-width="1.35"/>
<line x1="54.3" y1="154.6" x2="153.4" y2="154.6" stroke="#fff" stroke-width="1.35"/>
<line x1="54.3" y1="172" x2="153.4" y2="172" stroke="#fff" stroke-width="1.35"/>
<line x1="54.3" y1="189.4" x2="153.4" y2="189.4" stroke="#fff" stroke-width="1.35"/>
<line x1="54.3" y1="206.8" x2="153.4" y2="206.8" stroke="#fff" stroke-width="1.35"/>
<line x1="54.3" y1="224.2" x2="153.4" y2="224.2" stroke="#fff" stroke-width="1.35"/>
<line x1="54.3" y1="241.6" x2="153.4" y2="241.6" stroke="#fff" stroke-width="1.35"/>
<line x1="54.3" y1="259" x2="153.4" y2="259" stroke="#fff" stroke-width="1.35"/>
<line x1="54.3" y1="276.4" x2="153.4" y2="276.4" stroke="#fff" stroke-width="1.35"/>
<circle cx="58.7" cy="178.9" r="2.45" fill="#000000"/>
<circle cx="64.2" cy="175.4" r="2.45" fill="#000000"/>
<circle cx="81" cy="174.5" r="2.45" fill="#000000"/>
<circle cx="64.2" cy="192.6" r="2.45" fill="#4876FF"/>
<circle cx="64.2" cy="197.1" r="2.45" fill="#FF1493"/>
<circle cx="70" cy="198.2" r="2.45" fill="#4876FF"/>
<circle cx="75.5" cy="199.3" r="2.45" fill="#000000"/>
<circle cx="64.2" cy="205.7" r="2.45" fill="#FF1493"/>
<circle cx="81" cy="208.6" r="2.45" fill="#000000"/>
<circle cx="86.8" cy="208.1" r="2.45" fill="#FF1493"/>
<circle cx="58.7" cy="214.5" r="2.45" fill="#4876FF"/>
<circle cx="75.5" cy="216.3" r="2.45" fill="#4876FF"/>
<circle cx="86.8" cy="228" r="2.45" fill="#FF1493"/>
<circle cx="98.1" cy="227.4" r="2.45" fill="#FF1493"/>
<circle cx="137.7" cy="238.7" r="2.45" fill="#4876FF"/>
<circle cx="149" cy="224.9" r="2.45" fill="#4876FF"/>
<path d="M58.7 183.88 L60.96 185.4 L63.22 186.89 L65.47 188.35 L67.73 189.78 L69.99 191.16 L72.25 192.51 L74.5 193.8 L76.76 195.05 L79.02 196.24 L81.28 197.37 L83.53 198.44 L85.79 199.46 L88.05 200.41 L90.31 201.32 L92.56 202.17 L94.82 202.97 L97.08 203.73 L99.34 204.45 L101.59 205.14 L103.85 205.8 L106.11 206.43 L108.37 207.04 L110.62 207.63 L112.88 208.2 L115.14 208.76 L117.39 209.3 L119.65 209.83 L121.91 210.35 L124.17 210.86 L126.42 211.36 L128.68 211.85 L130.94 212.34 L133.2 212.82 L135.45 213.3 L137.71 213.77 L139.97 214.23 L142.23 214.7 L144.49 215.16 L146.74 215.61 L149 216.07 L149 258.53 L146.74 256.83 L144.49 255.13 L142.23 253.44 L139.97 251.75 L137.71 250.06 L135.45 248.37 L133.2 246.69 L130.94 245.02 L128.68 243.35 L126.42 241.69 L124.17 240.04 L121.91 238.39 L119.65 236.76 L117.39 235.13 L115.14 233.52 L112.88 231.92 L110.62 230.33 L108.37 228.77 L106.11 227.22 L103.85 225.7 L101.59 224.2 L99.34 222.74 L97.08 221.3 L94.82 219.91 L92.56 218.56 L90.31 217.25 L88.05 216 L85.79 214.8 L83.53 213.66 L81.28 212.58 L79.02 211.56 L76.76 210.59 L74.5 209.68 L72.25 208.82 L69.99 208.01 L67.73 207.24 L65.47 206.52 L63.22 205.82 L60.96 205.16 L58.7 204.52 Z" fill="#B4B4B4" fill-opacity="0.35"/>
<line x1="54.3" y1="206.8" x2="153.4" y2="206.8" stroke="#7A7A7A" stroke-width="1.25"/>
<line x1="58.7" y1="194.2" x2="149" y2="237.3" stroke="#000" stroke-width="1.5"/>
</g>
<rect x="54.3" y="148.2" width="99.1" height="22.3" fill="#D9D9D9"/>
<text x="104.1" y="164.05" font-size="11.5" fill="#262626" text-anchor="middle">TG 56:7</text>
<line x1="50.7" y1="172" x2="54.3" y2="172" stroke="#333333" stroke-width="1.1"/>
<text x="47.4" y="176.3" font-size="12" fill="#4D4D4D" text-anchor="end">1.0</text>
<line x1="50.7" y1="189.4" x2="54.3" y2="189.4" stroke="#333333" stroke-width="1.1"/>
<text x="47.4" y="193.7" font-size="12" fill="#4D4D4D" text-anchor="end">0.5</text>
<line x1="50.7" y1="206.8" x2="54.3" y2="206.8" stroke="#333333" stroke-width="1.1"/>
<text x="47.4" y="211.1" font-size="12" fill="#4D4D4D" text-anchor="end">0.0</text>
<line x1="50.7" y1="224.2" x2="54.3" y2="224.2" stroke="#333333" stroke-width="1.1"/>
<text x="47.4" y="228.5" font-size="12" fill="#4D4D4D" text-anchor="end">-0.5</text>
<line x1="50.7" y1="241.6" x2="54.3" y2="241.6" stroke="#333333" stroke-width="1.1"/>
<text x="47.4" y="245.9" font-size="12" fill="#4D4D4D" text-anchor="end">-1.0</text>
<line x1="50.7" y1="259" x2="54.3" y2="259" stroke="#333333" stroke-width="1.1"/>
<text x="47.4" y="263.3" font-size="12" fill="#4D4D4D" text-anchor="end">-1.5</text>
<line x1="81" y1="262.8" x2="81" y2="266.4" stroke="#333333" stroke-width="1.1"/>
<text x="81" y="278.6" font-size="12" fill="#4D4D4D" text-anchor="middle">4.5</text>
<line x1="109.35" y1="262.8" x2="109.35" y2="266.4" stroke="#333333" stroke-width="1.1"/>
<text x="109.35" y="278.6" font-size="12" fill="#4D4D4D" text-anchor="middle">5.0</text>
<line x1="137.7" y1="262.8" x2="137.7" y2="266.4" stroke="#333333" stroke-width="1.1"/>
<text x="137.7" y="278.6" font-size="12" fill="#4D4D4D" text-anchor="middle">5.5</text>
<clipPath id="c6"><rect x="193.6" y="171" width="98.6" height="90"/></clipPath>
<g clip-path="url(#c6)">
<rect x="193.6" y="171" width="98.6" height="90" fill="#EBEBEB"/>
<line x1="206.2" y1="171" x2="206.2" y2="261" stroke="#fff" stroke-width="0.7"/>
<line x1="234.4" y1="171" x2="234.4" y2="261" stroke="#fff" stroke-width="0.7"/>
<line x1="262.6" y1="171" x2="262.6" y2="261" stroke="#fff" stroke-width="0.7"/>
<line x1="290.8" y1="171" x2="290.8" y2="261" stroke="#fff" stroke-width="0.7"/>
<line x1="193.6" y1="177.35" x2="292.2" y2="177.35" stroke="#fff" stroke-width="0.7"/>
<line x1="193.6" y1="196.25" x2="292.2" y2="196.25" stroke="#fff" stroke-width="0.7"/>
<line x1="193.6" y1="215.15" x2="292.2" y2="215.15" stroke="#fff" stroke-width="0.7"/>
<line x1="193.6" y1="234.05" x2="292.2" y2="234.05" stroke="#fff" stroke-width="0.7"/>
<line x1="193.6" y1="252.95" x2="292.2" y2="252.95" stroke="#fff" stroke-width="0.7"/>
<line x1="193.6" y1="271.85" x2="292.2" y2="271.85" stroke="#fff" stroke-width="0.7"/>
<line x1="193.6" y1="290.75" x2="292.2" y2="290.75" stroke="#fff" stroke-width="0.7"/>
<line x1="192.1" y1="171" x2="192.1" y2="261" stroke="#fff" stroke-width="1.35"/>
<line x1="220.3" y1="171" x2="220.3" y2="261" stroke="#fff" stroke-width="1.35"/>
<line x1="248.5" y1="171" x2="248.5" y2="261" stroke="#fff" stroke-width="1.35"/>
<line x1="276.7" y1="171" x2="276.7" y2="261" stroke="#fff" stroke-width="1.35"/>
<line x1="304.9" y1="171" x2="304.9" y2="261" stroke="#fff" stroke-width="1.35"/>
<line x1="193.6" y1="167.9" x2="292.2" y2="167.9" stroke="#fff" stroke-width="1.35"/>
<line x1="193.6" y1="186.8" x2="292.2" y2="186.8" stroke="#fff" stroke-width="1.35"/>
<line x1="193.6" y1="205.7" x2="292.2" y2="205.7" stroke="#fff" stroke-width="1.35"/>
<line x1="193.6" y1="224.6" x2="292.2" y2="224.6" stroke="#fff" stroke-width="1.35"/>
<line x1="193.6" y1="243.5" x2="292.2" y2="243.5" stroke="#fff" stroke-width="1.35"/>
<line x1="193.6" y1="262.4" x2="292.2" y2="262.4" stroke="#fff" stroke-width="1.35"/>
<line x1="193.6" y1="281.3" x2="292.2" y2="281.3" stroke="#fff" stroke-width="1.35"/>
<circle cx="197.8" cy="184.7" r="2.45" fill="#000000"/>
<circle cx="203.5" cy="178.3" r="2.45" fill="#000000"/>
<circle cx="220.3" cy="175.4" r="2.45" fill="#000000"/>
<circle cx="214.8" cy="189.1" r="2.45" fill="#000000"/>
<circle cx="203.5" cy="189.8" r="2.45" fill="#4876FF"/>
<circle cx="209.1" cy="194.9" r="2.45" fill="#4876FF"/>
<circle cx="225.9" cy="193.5" r="2.45" fill="#FF1493"/>
<circle cx="203.5" cy="200.8" r="2.45" fill="#FF1493"/>
<circle cx="214.8" cy="204.1" r="2.45" fill="#4876FF"/>
<circle cx="220.3" cy="206.8" r="2.45" fill="#000000"/>
<circle cx="225.9" cy="209.7" r="2.45" fill="#FF1493"/>
<circle cx="203.5" cy="217" r="2.45" fill="#FF1493"/>
<circle cx="237.1" cy="224.5" r="2.45" fill="#FF1493"/>
<circle cx="225.9" cy="228.9" r="2.45" fill="#FF1493"/>
<circle cx="197.8" cy="232.9" r="2.45" fill="#4876FF"/>
<circle cx="276.7" cy="243.7" r="2.45" fill="#4876FF"/>
<circle cx="287.8" cy="223.4" r="2.45" fill="#4876FF"/>
<path d="M197.8 183.48 L200.05 184.98 L202.3 186.44 L204.55 187.88 L206.8 189.27 L209.05 190.61 L211.3 191.91 L213.55 193.14 L215.8 194.32 L218.05 195.43 L220.3 196.46 L222.55 197.43 L224.8 198.32 L227.05 199.14 L229.3 199.9 L231.55 200.59 L233.8 201.22 L236.05 201.8 L238.3 202.33 L240.55 202.82 L242.8 203.28 L245.05 203.7 L247.3 204.09 L249.55 204.46 L251.8 204.81 L254.05 205.14 L256.3 205.46 L258.55 205.76 L260.8 206.04 L263.05 206.32 L265.3 206.59 L267.55 206.84 L269.8 207.09 L272.05 207.34 L274.3 207.57 L276.55 207.8 L278.8 208.03 L281.05 208.25 L283.3 208.47 L285.55 208.68 L287.8 208.89 L287.8 259.11 L285.55 257.41 L283.3 255.7 L281.05 254.01 L278.8 252.31 L276.55 250.62 L274.3 248.94 L272.05 247.26 L269.8 245.59 L267.55 243.92 L265.3 242.26 L263.05 240.61 L260.8 238.98 L258.55 237.35 L256.3 235.73 L254.05 234.13 L251.8 232.55 L249.55 230.98 L247.3 229.44 L245.05 227.92 L242.8 226.42 L240.55 224.96 L238.3 223.54 L236.05 222.16 L233.8 220.82 L231.55 219.54 L229.3 218.31 L227.05 217.15 L224.8 216.06 L222.55 215.04 L220.3 214.09 L218.05 213.21 L215.8 212.4 L213.55 211.66 L211.3 210.98 L209.05 210.36 L206.8 209.79 L204.55 209.27 L202.3 208.79 L200.05 208.34 L197.8 207.92 Z" fill="#B4B4B4" fill-opacity="0.35"/>
<line x1="193.6" y1="205.7" x2="292.2" y2="205.7" stroke="#7A7A7A" stroke-width="1.25"/>
<line x1="197.8" y1="195.7" x2="287.8" y2="234" stroke="#000" stroke-width="1.5"/>
</g>
<rect x="193.6" y="149.3" width="98.6" height="21.7" fill="#D9D9D9"/>
<text x="241.1" y="164.85" font-size="11.5" fill="#262626" text-anchor="middle">TG 56:8</text>
<line x1="190" y1="186.8" x2="193.6" y2="186.8" stroke="#333333" stroke-width="1.1"/>
<text x="186.7" y="191.1" font-size="12" fill="#4D4D4D" text-anchor="end">0.5</text>
<line x1="190" y1="205.7" x2="193.6" y2="205.7" stroke="#333333" stroke-width="1.1"/>
<text x="186.7" y="210" font-size="12" fill="#4D4D4D" text-anchor="end">0.0</text>
<line x1="190" y1="224.6" x2="193.6" y2="224.6" stroke="#333333" stroke-width="1.1"/>
<text x="186.7" y="228.9" font-size="12" fill="#4D4D4D" text-anchor="end">-0.5</text>
<line x1="190" y1="243.5" x2="193.6" y2="243.5" stroke="#333333" stroke-width="1.1"/>
<text x="186.7" y="247.8" font-size="12" fill="#4D4D4D" text-anchor="end">-1.0</text>
<line x1="190" y1="262.4" x2="193.6" y2="262.4" stroke="#333333" stroke-width="1.1"/>
<text x="186.7" y="266.7" font-size="12" fill="#4D4D4D" text-anchor="end">-1.5</text>
<line x1="220.3" y1="261" x2="220.3" y2="264.6" stroke="#333333" stroke-width="1.1"/>
<text x="220.3" y="276.8" font-size="12" fill="#4D4D4D" text-anchor="middle">4.5</text>
<line x1="248.5" y1="261" x2="248.5" y2="264.6" stroke="#333333" stroke-width="1.1"/>
<text x="248.5" y="276.8" font-size="12" fill="#4D4D4D" text-anchor="middle">5.0</text>
<line x1="276.7" y1="261" x2="276.7" y2="264.6" stroke="#333333" stroke-width="1.1"/>
<text x="276.7" y="276.8" font-size="12" fill="#4D4D4D" text-anchor="middle">5.5</text>
<clipPath id="c7"><rect x="327.6" y="171" width="98.5" height="91.8"/></clipPath>
<g clip-path="url(#c7)">
<rect x="327.6" y="171" width="98.5" height="91.8" fill="#EBEBEB"/>
<line x1="340.25" y1="171" x2="340.25" y2="262.8" stroke="#fff" stroke-width="0.7"/>
<line x1="368.35" y1="171" x2="368.35" y2="262.8" stroke="#fff" stroke-width="0.7"/>
<line x1="396.45" y1="171" x2="396.45" y2="262.8" stroke="#fff" stroke-width="0.7"/>
<line x1="424.55" y1="171" x2="424.55" y2="262.8" stroke="#fff" stroke-width="0.7"/>
<line x1="327.6" y1="159.95" x2="426.1" y2="159.95" stroke="#fff" stroke-width="0.7"/>
<line x1="327.6" y1="189.85" x2="426.1" y2="189.85" stroke="#fff" stroke-width="0.7"/>
<line x1="327.6" y1="219.75" x2="426.1" y2="219.75" stroke="#fff" stroke-width="0.7"/>
<line x1="327.6" y1="249.65" x2="426.1" y2="249.65" stroke="#fff" stroke-width="0.7"/>
<line x1="327.6" y1="279.55" x2="426.1" y2="279.55" stroke="#fff" stroke-width="0.7"/>
<line x1="326.2" y1="171" x2="326.2" y2="262.8" stroke="#fff" stroke-width="1.35"/>
<line x1="354.3" y1="171" x2="354.3" y2="262.8" stroke="#fff" stroke-width="1.35"/>
<line x1="382.4" y1="171" x2="382.4" y2="262.8" stroke="#fff" stroke-width="1.35"/>
<line x1="410.5" y1="171" x2="410.5" y2="262.8" stroke="#fff" stroke-width="1.35"/>
<line x1="438.6" y1="171" x2="438.6" y2="262.8" stroke="#fff" stroke-width="1.35"/>
<line x1="327.6" y1="145" x2="426.1" y2="145" stroke="#fff" stroke-width="1.35"/>
<line x1="327.6" y1="174.9" x2="426.1" y2="174.9" stroke="#fff" stroke-width="1.35"/>
<line x1="327.6" y1="204.8" x2="426.1" y2="204.8" stroke="#fff" stroke-width="1.35"/>
<line x1="327.6" y1="234.7" x2="426.1" y2="234.7" stroke="#fff" stroke-width="1.35"/>
<line x1="327.6" y1="264.6" x2="426.1" y2="264.6" stroke="#fff" stroke-width="1.35"/>
<circle cx="337.3" cy="178.3" r="2.45" fill="#4876FF"/>
<circle cx="337.3" cy="183.8" r="2.45" fill="#000000"/>
<circle cx="354.3" cy="175.4" r="2.45" fill="#000000"/>
<circle cx="348.6" cy="184.2" r="2.45" fill="#000000"/>
<circle cx="331.8" cy="195.7" r="2.45" fill="#000000"/>
<circle cx="343" cy="201.9" r="2.45" fill="#4876FF"/>
<circle cx="354.3" cy="202.6" r="2.45" fill="#000000"/>
<circle cx="348.6" cy="207.5" r="2.45" fill="#4876FF"/>
<circle cx="337.3" cy="208.6" r="2.45" fill="#FF1493"/>
<circle cx="337.3" cy="210.8" r="2.45" fill="#FF1493"/>
<circle cx="359.8" cy="205.9" r="2.45" fill="#FF1493"/>
<circle cx="370.9" cy="215.2" r="2.45" fill="#FF1493"/>
<circle cx="359.8" cy="217.9" r="2.45" fill="#FF1493"/>
<circle cx="331.8" cy="218.5" r="2.45" fill="#4876FF"/>
<circle cx="359.8" cy="238.4" r="2.45" fill="#FF1493"/>
<circle cx="410.5" cy="244.6" r="2.45" fill="#4876FF"/>
<circle cx="421.7" cy="222.3" r="2.45" fill="#4876FF"/>
<path d="M331.8 184.88 L334.05 186.35 L336.3 187.8 L338.54 189.21 L340.79 190.59 L343.04 191.92 L345.29 193.2 L347.53 194.43 L349.78 195.6 L352.03 196.71 L354.27 197.75 L356.52 198.72 L358.77 199.62 L361.02 200.46 L363.26 201.23 L365.51 201.95 L367.76 202.6 L370.01 203.21 L372.25 203.78 L374.5 204.3 L376.75 204.8 L379 205.26 L381.25 205.69 L383.49 206.1 L385.74 206.5 L387.99 206.87 L390.24 207.23 L392.48 207.58 L394.73 207.91 L396.98 208.23 L399.23 208.55 L401.47 208.85 L403.72 209.15 L405.97 209.44 L408.22 209.73 L410.46 210.01 L412.71 210.29 L414.96 210.56 L417.2 210.83 L419.45 211.09 L421.7 211.35 L421.7 258.85 L419.45 257.17 L417.2 255.5 L414.96 253.83 L412.71 252.17 L410.46 250.51 L408.22 248.86 L405.97 247.21 L403.72 245.57 L401.47 243.93 L399.23 242.3 L396.98 240.68 L394.73 239.07 L392.48 237.47 L390.24 235.88 L387.99 234.3 L385.74 232.74 L383.49 231.2 L381.25 229.68 L379 228.18 L376.75 226.7 L374.5 225.26 L372.25 223.85 L370.01 222.48 L367.76 221.16 L365.51 219.88 L363.26 218.66 L361.02 217.49 L358.77 216.4 L356.52 215.36 L354.27 214.4 L352.03 213.51 L349.78 212.68 L347.53 211.91 L345.29 211.21 L343.04 210.55 L340.79 209.95 L338.54 209.39 L336.3 208.87 L334.05 208.38 L331.8 207.92 Z" fill="#B4B4B4" fill-opacity="0.35"/>
<line x1="327.6" y1="204.8" x2="426.1" y2="204.8" stroke="#7A7A7A" stroke-width="1.25"/>
<line x1="331.8" y1="196.4" x2="421.7" y2="235.1" stroke="#000" stroke-width="1.5"/>
</g>
<rect x="327.6" y="149.3" width="98.5" height="21.7" fill="#D9D9D9"/>
<text x="377.4" y="164.85" font-size="11.5" fill="#262626" text-anchor="middle">TG 56:9</text>
<line x1="324" y1="174.9" x2="327.6" y2="174.9" stroke="#333333" stroke-width="1.1"/>
<text x="320.7" y="179.2" font-size="12" fill="#4D4D4D" text-anchor="end">1</text>
<line x1="324" y1="204.8" x2="327.6" y2="204.8" stroke="#333333" stroke-width="1.1"/>
<text x="320.7" y="209.1" font-size="12" fill="#4D4D4D" text-anchor="end">0</text>
<line x1="324" y1="234.7" x2="327.6" y2="234.7" stroke="#333333" stroke-width="1.1"/>
<text x="320.7" y="239" font-size="12" fill="#4D4D4D" text-anchor="end">-1</text>
<line x1="354.3" y1="262.8" x2="354.3" y2="266.4" stroke="#333333" stroke-width="1.1"/>
<text x="354.3" y="278.6" font-size="12" fill="#4D4D4D" text-anchor="middle">4.5</text>
<line x1="382.4" y1="262.8" x2="382.4" y2="266.4" stroke="#333333" stroke-width="1.1"/>
<text x="382.4" y="278.6" font-size="12" fill="#4D4D4D" text-anchor="middle">5.0</text>
<line x1="410.5" y1="262.8" x2="410.5" y2="266.4" stroke="#333333" stroke-width="1.1"/>
<text x="410.5" y="278.6" font-size="12" fill="#4D4D4D" text-anchor="middle">5.5</text>
<clipPath id="c8"><rect x="451.3" y="171" width="98.8" height="92.5"/></clipPath>
<g clip-path="url(#c8)">
<rect x="451.3" y="171" width="98.8" height="92.5" fill="#EBEBEB"/>
<line x1="464" y1="171" x2="464" y2="263.5" stroke="#fff" stroke-width="0.7"/>
<line x1="492.2" y1="171" x2="492.2" y2="263.5" stroke="#fff" stroke-width="0.7"/>
<line x1="520.4" y1="171" x2="520.4" y2="263.5" stroke="#fff" stroke-width="0.7"/>
<line x1="548.6" y1="171" x2="548.6" y2="263.5" stroke="#fff" stroke-width="0.7"/>
<line x1="451.3" y1="158.2" x2="550.1" y2="158.2" stroke="#fff" stroke-width="0.7"/>
<line x1="451.3" y1="190.6" x2="550.1" y2="190.6" stroke="#fff" stroke-width="0.7"/>
<line x1="451.3" y1="223" x2="550.1" y2="223" stroke="#fff" stroke-width="0.7"/>
<line x1="451.3" y1="255.4" x2="550.1" y2="255.4" stroke="#fff" stroke-width="0.7"/>
<line x1="451.3" y1="287.8" x2="550.1" y2="287.8" stroke="#fff" stroke-width="0.7"/>
<line x1="449.9" y1="171" x2="449.9" y2="263.5" stroke="#fff" stroke-width="1.35"/>
<line x1="478.1" y1="171" x2="478.1" y2="263.5" stroke="#fff" stroke-width="1.35"/>
<line x1="506.3" y1="171" x2="506.3" y2="263.5" stroke="#fff" stroke-width="1.35"/>
<line x1="534.5" y1="171" x2="534.5" y2="263.5" stroke="#fff" stroke-width="1.35"/>
<line x1="562.7" y1="171" x2="562.7" y2="263.5" stroke="#fff" stroke-width="1.35"/>
<line x1="451.3" y1="142" x2="550.1" y2="142" stroke="#fff" stroke-width="1.35"/>
<line x1="451.3" y1="174.4" x2="550.1" y2="174.4" stroke="#fff" stroke-width="1.35"/>
<line x1="451.3" y1="206.8" x2="550.1" y2="206.8" stroke="#fff" stroke-width="1.35"/>
<line x1="451.3" y1="239.2" x2="550.1" y2="239.2" stroke="#fff" stroke-width="1.35"/>
<line x1="451.3" y1="271.6" x2="550.1" y2="271.6" stroke="#fff" stroke-width="1.35"/>
<circle cx="461.5" cy="175.4" r="2.45" fill="#000000"/>
<circle cx="478.1" cy="177.6" r="2.45" fill="#000000"/>
<circle cx="455.7" cy="185.3" r="2.45" fill="#000000"/>
<circle cx="461.5" cy="184.7" r="2.45" fill="#4876FF"/>
<circle cx="467" cy="195.7" r="2.45" fill="#4876FF"/>
<circle cx="472.5" cy="198.2" r="2.45" fill="#000000"/>
<circle cx="461.5" cy="201.3" r="2.45" fill="#FF1493"/>
<circle cx="483.6" cy="204.6" r="2.45" fill="#FF1493"/>
<circle cx="483.6" cy="207.5" r="2.45" fill="#FF1493"/>
<circle cx="472.5" cy="211.9" r="2.45" fill="#4876FF"/>
<circle cx="478.1" cy="210.8" r="2.45" fill="#000000"/>
<circle cx="495.1" cy="213.4" r="2.45" fill="#FF1493"/>
<circle cx="455.7" cy="217" r="2.45" fill="#4876FF"/>
<circle cx="461.5" cy="221.4" r="2.45" fill="#FF1493"/>
<circle cx="483.6" cy="223.6" r="2.45" fill="#FF1493"/>
<circle cx="534.5" cy="245.1" r="2.45" fill="#4876FF"/>
<circle cx="545.6" cy="228.9" r="2.45" fill="#4876FF"/>
<path d="M455.7 184.39 L457.95 185.92 L460.19 187.42 L462.44 188.89 L464.69 190.33 L466.94 191.73 L469.19 193.08 L471.43 194.39 L473.68 195.65 L475.93 196.86 L478.18 198.01 L480.42 199.09 L482.67 200.12 L484.92 201.09 L487.17 202.01 L489.41 202.87 L491.66 203.69 L493.91 204.46 L496.16 205.19 L498.4 205.89 L500.65 206.56 L502.9 207.21 L505.14 207.83 L507.39 208.43 L509.64 209.01 L511.89 209.58 L514.13 210.13 L516.38 210.68 L518.63 211.21 L520.88 211.73 L523.12 212.25 L525.37 212.76 L527.62 213.26 L529.87 213.76 L532.12 214.25 L534.36 214.73 L536.61 215.22 L538.86 215.7 L541.11 216.17 L543.35 216.64 L545.6 217.11 L545.6 258.29 L543.35 256.59 L541.11 254.9 L538.86 253.21 L536.61 251.52 L534.36 249.84 L532.12 248.16 L529.87 246.49 L527.62 244.82 L525.37 243.16 L523.12 241.5 L520.88 239.85 L518.63 238.21 L516.38 236.58 L514.13 234.96 L511.89 233.35 L509.64 231.75 L507.39 230.17 L505.14 228.6 L502.9 227.06 L500.65 225.54 L498.4 224.04 L496.16 222.58 L493.91 221.15 L491.66 219.75 L489.41 218.4 L487.17 217.1 L484.92 215.85 L482.67 214.66 L480.42 213.52 L478.18 212.44 L475.93 211.43 L473.68 210.47 L471.43 209.56 L469.19 208.71 L466.94 207.9 L464.69 207.13 L462.44 206.41 L460.19 205.71 L457.95 205.05 L455.7 204.41 Z" fill="#B4B4B4" fill-opacity="0.35"/>
<line x1="451.3" y1="206.8" x2="550.1" y2="206.8" stroke="#7A7A7A" stroke-width="1.25"/>
<line x1="455.7" y1="194.4" x2="545.6" y2="237.7" stroke="#000" stroke-width="1.5"/>
</g>
<rect x="451.3" y="149.3" width="98.8" height="21.7" fill="#D9D9D9"/>
<text x="498.2" y="164.85" font-size="11.5" fill="#262626" text-anchor="middle">TG 58:10</text>
<line x1="447.7" y1="174.4" x2="451.3" y2="174.4" stroke="#333333" stroke-width="1.1"/>
<text x="444.4" y="178.7" font-size="12" fill="#4D4D4D" text-anchor="end">1</text>
<line x1="447.7" y1="206.8" x2="451.3" y2="206.8" stroke="#333333" stroke-width="1.1"/>
<text x="444.4" y="211.1" font-size="12" fill="#4D4D4D" text-anchor="end">0</text>
<line x1="447.7" y1="239.2" x2="451.3" y2="239.2" stroke="#333333" stroke-width="1.1"/>
<text x="444.4" y="243.5" font-size="12" fill="#4D4D4D" text-anchor="end">-1</text>
<line x1="478.1" y1="263.5" x2="478.1" y2="267.1" stroke="#333333" stroke-width="1.1"/>
<text x="478.1" y="279.3" font-size="12" fill="#4D4D4D" text-anchor="middle">4.5</text>
<line x1="506.3" y1="263.5" x2="506.3" y2="267.1" stroke="#333333" stroke-width="1.1"/>
<text x="506.3" y="279.3" font-size="12" fill="#4D4D4D" text-anchor="middle">5.0</text>
<line x1="534.5" y1="263.5" x2="534.5" y2="267.1" stroke="#333333" stroke-width="1.1"/>
<text x="534.5" y="279.3" font-size="12" fill="#4D4D4D" text-anchor="middle">5.5</text>
<clipPath id="c9"><rect x="578.1" y="170.8" width="98.9" height="91.2"/></clipPath>
<g clip-path="url(#c9)">
<rect x="578.1" y="170.8" width="98.9" height="91.2" fill="#EBEBEB"/>
<line x1="590.85" y1="170.8" x2="590.85" y2="262" stroke="#fff" stroke-width="0.7"/>
<line x1="618.95" y1="170.8" x2="618.95" y2="262" stroke="#fff" stroke-width="0.7"/>
<line x1="647.05" y1="170.8" x2="647.05" y2="262" stroke="#fff" stroke-width="0.7"/>
<line x1="675.15" y1="170.8" x2="675.15" y2="262" stroke="#fff" stroke-width="0.7"/>
<line x1="578.1" y1="160.55" x2="677" y2="160.55" stroke="#fff" stroke-width="0.7"/>
<line x1="578.1" y1="189.85" x2="677" y2="189.85" stroke="#fff" stroke-width="0.7"/>
<line x1="578.1" y1="219.15" x2="677" y2="219.15" stroke="#fff" stroke-width="0.7"/>
<line x1="578.1" y1="248.45" x2="677" y2="248.45" stroke="#fff" stroke-width="0.7"/>
<line x1="578.1" y1="277.75" x2="677" y2="277.75" stroke="#fff" stroke-width="0.7"/>
<line x1="578.1" y1="307.05" x2="677" y2="307.05" stroke="#fff" stroke-width="0.7"/>
<line x1="576.8" y1="170.8" x2="576.8" y2="262" stroke="#fff" stroke-width="1.35"/>
<line x1="604.9" y1="170.8" x2="604.9" y2="262" stroke="#fff" stroke-width="1.35"/>
<line x1="633" y1="170.8" x2="633" y2="262" stroke="#fff" stroke-width="1.35"/>
<line x1="661.1" y1="170.8" x2="661.1" y2="262" stroke="#fff" stroke-width="1.35"/>
<line x1="689.2" y1="170.8" x2="689.2" y2="262" stroke="#fff" stroke-width="1.35"/>
<line x1="578.1" y1="145.9" x2="677" y2="145.9" stroke="#fff" stroke-width="1.35"/>
<line x1="578.1" y1="175.2" x2="677" y2="175.2" stroke="#fff" stroke-width="1.35"/>
<line x1="578.1" y1="204.5" x2="677" y2="204.5" stroke="#fff" stroke-width="1.35"/>
<line x1="578.1" y1="233.8" x2="677" y2="233.8" stroke="#fff" stroke-width="1.35"/>
<line x1="578.1" y1="263.1" x2="677" y2="263.1" stroke="#fff" stroke-width="1.35"/>
<line x1="578.1" y1="292.4" x2="677" y2="292.4" stroke="#fff" stroke-width="1.35"/>
<circle cx="587.8" cy="175.6" r="2.45" fill="#FF1493"/>
<circle cx="587.8" cy="180.3" r="2.45" fill="#000000"/>
<circle cx="587.8" cy="182.7" r="2.45" fill="#4876FF"/>
<circle cx="582.1" cy="183.6" r="2.45" fill="#000000"/>
<circle cx="604.9" cy="175.6" r="2.45" fill="#000000"/>
<circle cx="593.5" cy="189.3" r="2.45" fill="#4876FF"/>
<circle cx="599.2" cy="204" r="2.45" fill="#000000"/>
<circle cx="604.9" cy="204" r="2.45" fill="#000000"/>
<circle cx="610.6" cy="201.6" r="2.45" fill="#FF1493"/>
<circle cx="610.6" cy="209" r="2.45" fill="#FF1493"/>
<circle cx="587.8" cy="208.7" r="2.45" fill="#FF1493"/>
<circle cx="610.6" cy="220.4" r="2.45" fill="#FF1493"/>
<circle cx="622" cy="222.5" r="2.45" fill="#FF1493"/>
<circle cx="582.1" cy="222.2" r="2.45" fill="#4876FF"/>
<circle cx="661.1" cy="251.6" r="2.45" fill="#4876FF"/>
<circle cx="672.5" cy="213" r="2.45" fill="#4876FF"/>
<path d="M582.1 178.52 L584.36 180.16 L586.62 181.77 L588.87 183.34 L591.13 184.88 L593.39 186.37 L595.64 187.81 L597.9 189.2 L600.16 190.53 L602.42 191.79 L604.67 192.99 L606.93 194.11 L609.19 195.17 L611.45 196.16 L613.71 197.08 L615.96 197.94 L618.22 198.74 L620.48 199.48 L622.74 200.18 L624.99 200.84 L627.25 201.46 L629.51 202.04 L631.76 202.6 L634.02 203.13 L636.28 203.64 L638.54 204.13 L640.79 204.6 L643.05 205.06 L645.31 205.5 L647.57 205.94 L649.83 206.36 L652.08 206.77 L654.34 207.17 L656.6 207.57 L658.86 207.96 L661.11 208.34 L663.37 208.72 L665.63 209.1 L667.88 209.47 L670.14 209.83 L672.4 210.19 L672.4 260.01 L670.14 258.16 L667.88 256.32 L665.63 254.49 L663.37 252.66 L661.11 250.83 L658.86 249.01 L656.6 247.19 L654.34 245.39 L652.08 243.59 L649.83 241.79 L647.57 240.01 L645.31 238.24 L643.05 236.48 L640.79 234.73 L638.54 233 L636.28 231.28 L634.02 229.58 L631.76 227.91 L629.51 226.26 L627.25 224.64 L624.99 223.06 L622.74 221.51 L620.48 220 L618.22 218.54 L615.96 217.14 L613.71 215.79 L611.45 214.51 L609.19 213.29 L606.93 212.14 L604.67 211.06 L602.42 210.05 L600.16 209.11 L597.9 208.24 L595.64 207.42 L593.39 206.66 L591.13 205.94 L588.87 205.27 L586.62 204.64 L584.36 204.05 L582.1 203.48 Z" fill="#B4B4B4" fill-opacity="0.35"/>
<line x1="578.1" y1="204.5" x2="677" y2="204.5" stroke="#7A7A7A" stroke-width="1.25"/>
<line x1="582.1" y1="191" x2="672.4" y2="235.1" stroke="#000" stroke-width="1.5"/>
</g>
<rect x="578.1" y="149.5" width="98.9" height="21.3" fill="#D9D9D9"/>
<text x="628.7" y="164.85" font-size="11.5" fill="#262626" text-anchor="middle">TG 58:9</text>
<line x1="574.5" y1="175.2" x2="578.1" y2="175.2" stroke="#333333" stroke-width="1.1"/>
<text x="571.2" y="179.5" font-size="12" fill="#4D4D4D" text-anchor="end">1</text>
<line x1="574.5" y1="204.5" x2="578.1" y2="204.5" stroke="#333333" stroke-width="1.1"/>
<text x="571.2" y="208.8" font-size="12" fill="#4D4D4D" text-anchor="end">0</text>
<line x1="574.5" y1="233.8" x2="578.1" y2="233.8" stroke="#333333" stroke-width="1.1"/>
<text x="571.2" y="238.1" font-size="12" fill="#4D4D4D" text-anchor="end">-1</text>
<line x1="574.5" y1="263.1" x2="578.1" y2="263.1" stroke="#333333" stroke-width="1.1"/>
<text x="571.2" y="267.4" font-size="12" fill="#4D4D4D" text-anchor="end">-2</text>
<line x1="604.9" y1="262" x2="604.9" y2="265.6" stroke="#333333" stroke-width="1.1"/>
<text x="604.9" y="277.8" font-size="12" fill="#4D4D4D" text-anchor="middle">4.5</text>
<line x1="633" y1="262" x2="633" y2="265.6" stroke="#333333" stroke-width="1.1"/>
<text x="633" y="277.8" font-size="12" fill="#4D4D4D" text-anchor="middle">5.0</text>
<line x1="661.1" y1="262" x2="661.1" y2="265.6" stroke="#333333" stroke-width="1.1"/>
<text x="661.1" y="277.8" font-size="12" fill="#4D4D4D" text-anchor="middle">5.5</text>
<clipPath id="c10"><rect x="49.4" y="352.7" width="97.1" height="92.9"/></clipPath>
<g clip-path="url(#c10)">
<rect x="49.4" y="352.7" width="97.1" height="92.9" fill="#EBEBEB"/>
<line x1="53.79" y1="352.7" x2="53.79" y2="445.6" stroke="#fff" stroke-width="0.7"/>
<line x1="73.81" y1="352.7" x2="73.81" y2="445.6" stroke="#fff" stroke-width="0.7"/>
<line x1="93.84" y1="352.7" x2="93.84" y2="445.6" stroke="#fff" stroke-width="0.7"/>
<line x1="113.86" y1="352.7" x2="113.86" y2="445.6" stroke="#fff" stroke-width="0.7"/>
<line x1="133.89" y1="352.7" x2="133.89" y2="445.6" stroke="#fff" stroke-width="0.7"/>
<line x1="153.91" y1="352.7" x2="153.91" y2="445.6" stroke="#fff" stroke-width="0.7"/>
<line x1="49.4" y1="358.7" x2="146.5" y2="358.7" stroke="#fff" stroke-width="0.7"/>
<line x1="49.4" y1="377.1" x2="146.5" y2="377.1" stroke="#fff" stroke-width="0.7"/>
<line x1="49.4" y1="395.5" x2="146.5" y2="395.5" stroke="#fff" stroke-width="0.7"/>
<line x1="49.4" y1="413.9" x2="146.5" y2="413.9" stroke="#fff" stroke-width="0.7"/>
<line x1="49.4" y1="432.3" x2="146.5" y2="432.3" stroke="#fff" stroke-width="0.7"/>
<line x1="49.4" y1="450.7" x2="146.5" y2="450.7" stroke="#fff" stroke-width="0.7"/>
<line x1="49.4" y1="469.1" x2="146.5" y2="469.1" stroke="#fff" stroke-width="0.7"/>
<line x1="43.77" y1="352.7" x2="43.77" y2="445.6" stroke="#fff" stroke-width="1.35"/>
<line x1="63.8" y1="352.7" x2="63.8" y2="445.6" stroke="#fff" stroke-width="1.35"/>
<line x1="83.83" y1="352.7" x2="83.83" y2="445.6" stroke="#fff" stroke-width="1.35"/>
<line x1="103.85" y1="352.7" x2="103.85" y2="445.6" stroke="#fff" stroke-width="1.35"/>
<line x1="123.88" y1="352.7" x2="123.88" y2="445.6" stroke="#fff" stroke-width="1.35"/>
<line x1="143.9" y1="352.7" x2="143.9" y2="445.6" stroke="#fff" stroke-width="1.35"/>
<line x1="163.93" y1="352.7" x2="163.93" y2="445.6" stroke="#fff" stroke-width="1.35"/>
<line x1="49.4" y1="349.5" x2="146.5" y2="349.5" stroke="#fff" stroke-width="1.35"/>
<line x1="49.4" y1="367.9" x2="146.5" y2="367.9" stroke="#fff" stroke-width="1.35"/>
<line x1="49.4" y1="386.3" x2="146.5" y2="386.3" stroke="#fff" stroke-width="1.35"/>
<line x1="49.4" y1="404.7" x2="146.5" y2="404.7" stroke="#fff" stroke-width="1.35"/>
<line x1="49.4" y1="423.1" x2="146.5" y2="423.1" stroke="#fff" stroke-width="1.35"/>
<line x1="49.4" y1="441.5" x2="146.5" y2="441.5" stroke="#fff" stroke-width="1.35"/>
<line x1="49.4" y1="459.9" x2="146.5" y2="459.9" stroke="#fff" stroke-width="1.35"/>
<circle cx="55.8" cy="374.9" r="2.45" fill="#000000"/>
<circle cx="78" cy="357.6" r="2.45" fill="#000000"/>
<circle cx="91.9" cy="370.4" r="2.45" fill="#000000"/>
<circle cx="83.9" cy="389.7" r="2.45" fill="#000000"/>
<circle cx="53.6" cy="390.3" r="2.45" fill="#FF1493"/>
<circle cx="115.8" cy="391" r="2.45" fill="#4876FF"/>
<circle cx="142.1" cy="400.3" r="2.45" fill="#FF1493"/>
<circle cx="61.6" cy="412.2" r="2.45" fill="#000000"/>
<circle cx="59.4" cy="414.4" r="2.45" fill="#FF1493"/>
<circle cx="99.9" cy="414" r="2.45" fill="#4876FF"/>
<circle cx="104.1" cy="422.9" r="2.45" fill="#4876FF"/>
<circle cx="59.8" cy="423.5" r="2.45" fill="#4876FF"/>
<circle cx="129.9" cy="420.4" r="2.45" fill="#FF1493"/>
<circle cx="134.1" cy="423.5" r="2.45" fill="#FF1493"/>
<circle cx="94.1" cy="434.1" r="2.45" fill="#FF1493"/>
<circle cx="136.1" cy="435.2" r="2.45" fill="#4876FF"/>
<circle cx="142.1" cy="437.9" r="2.45" fill="#4876FF"/>
<path d="M53.6 374.36 L55.81 375.69 L58.02 377 L60.24 378.3 L62.45 379.59 L64.66 380.86 L66.88 382.11 L69.09 383.34 L71.3 384.55 L73.51 385.73 L75.72 386.89 L77.94 388.01 L80.15 389.09 L82.36 390.14 L84.58 391.15 L86.79 392.11 L89 393.03 L91.21 393.89 L93.43 394.71 L95.64 395.46 L97.85 396.17 L100.06 396.82 L102.28 397.41 L104.49 397.96 L106.7 398.45 L108.91 398.9 L111.12 399.3 L113.34 399.66 L115.55 399.98 L117.76 400.27 L119.97 400.53 L122.19 400.76 L124.4 400.96 L126.61 401.15 L128.82 401.31 L131.04 401.45 L133.25 401.58 L135.46 401.69 L137.68 401.78 L139.89 401.87 L142.1 401.94 L142.1 440.66 L139.89 439.32 L137.68 437.99 L135.46 436.67 L133.25 435.36 L131.04 434.08 L128.82 432.8 L126.61 431.55 L124.4 430.32 L122.19 429.1 L119.97 427.92 L117.76 426.76 L115.55 425.64 L113.34 424.55 L111.12 423.49 L108.91 422.48 L106.7 421.51 L104.49 420.59 L102.28 419.72 L100.06 418.9 L97.85 418.13 L95.64 417.42 L93.43 416.76 L91.21 416.16 L89 415.61 L86.79 415.11 L84.58 414.66 L82.36 414.25 L80.15 413.89 L77.94 413.56 L75.72 413.26 L73.51 413 L71.3 412.77 L69.09 412.56 L66.88 412.38 L64.66 412.21 L62.45 412.07 L60.24 411.94 L58.02 411.83 L55.81 411.73 L53.6 411.64 Z" fill="#B4B4B4" fill-opacity="0.35"/>
<line x1="49.4" y1="404.7" x2="146.5" y2="404.7" stroke="#7A7A7A" stroke-width="1.25"/>
<line x1="53.6" y1="393" x2="142.1" y2="421.3" stroke="#000" stroke-width="1.5" stroke-dasharray="9.5 4.8"/>
</g>
<rect x="49.4" y="330.6" width="97.1" height="22.1" fill="#D9D9D9"/>
<text x="101.7" y="346.35" font-size="11.5" fill="#262626" text-anchor="middle">PE-P 38:6</text>
<line x1="45.8" y1="367.9" x2="49.4" y2="367.9" stroke="#333333" stroke-width="1.1"/>
<text x="42.5" y="372.2" font-size="12" fill="#4D4D4D" text-anchor="end">1.0</text>
<line x1="45.8" y1="386.3" x2="49.4" y2="386.3" stroke="#333333" stroke-width="1.1"/>
<text x="42.5" y="390.6" font-size="12" fill="#4D4D4D" text-anchor="end">0.5</text>
<line x1="45.8" y1="404.7" x2="49.4" y2="404.7" stroke="#333333" stroke-width="1.1"/>
<text x="42.5" y="409" font-size="12" fill="#4D4D4D" text-anchor="end">0.0</text>
<line x1="45.8" y1="423.1" x2="49.4" y2="423.1" stroke="#333333" stroke-width="1.1"/>
<text x="42.5" y="427.4" font-size="12" fill="#4D4D4D" text-anchor="end">-0.5</text>
<line x1="45.8" y1="441.5" x2="49.4" y2="441.5" stroke="#333333" stroke-width="1.1"/>
<text x="42.5" y="445.8" font-size="12" fill="#4D4D4D" text-anchor="end">-1.0</text>
<line x1="63.8" y1="445.6" x2="63.8" y2="449.2" stroke="#333333" stroke-width="1.1"/>
<text x="63.8" y="461.4" font-size="12" fill="#4D4D4D" text-anchor="middle">6</text>
<line x1="83.83" y1="445.6" x2="83.83" y2="449.2" stroke="#333333" stroke-width="1.1"/>
<text x="83.83" y="461.4" font-size="12" fill="#4D4D4D" text-anchor="middle">7</text>
<line x1="103.85" y1="445.6" x2="103.85" y2="449.2" stroke="#333333" stroke-width="1.1"/>
<text x="103.85" y="461.4" font-size="12" fill="#4D4D4D" text-anchor="middle">8</text>
<line x1="123.88" y1="445.6" x2="123.88" y2="449.2" stroke="#333333" stroke-width="1.1"/>
<text x="123.88" y="461.4" font-size="12" fill="#4D4D4D" text-anchor="middle">9</text>
<line x1="143.9" y1="445.6" x2="143.9" y2="449.2" stroke="#333333" stroke-width="1.1"/>
<text x="143.9" y="461.4" font-size="12" fill="#4D4D4D" text-anchor="middle">10</text>
<clipPath id="c11"><rect x="181.4" y="353.2" width="96.9" height="92.8"/></clipPath>
<g clip-path="url(#c11)">
<rect x="181.4" y="353.2" width="96.9" height="92.8" fill="#EBEBEB"/>
<line x1="185.26" y1="353.2" x2="185.26" y2="446" stroke="#fff" stroke-width="0.7"/>
<line x1="205.34" y1="353.2" x2="205.34" y2="446" stroke="#fff" stroke-width="0.7"/>
<line x1="225.41" y1="353.2" x2="225.41" y2="446" stroke="#fff" stroke-width="0.7"/>
<line x1="245.49" y1="353.2" x2="245.49" y2="446" stroke="#fff" stroke-width="0.7"/>
<line x1="265.56" y1="353.2" x2="265.56" y2="446" stroke="#fff" stroke-width="0.7"/>
<line x1="285.64" y1="353.2" x2="285.64" y2="446" stroke="#fff" stroke-width="0.7"/>
<line x1="181.4" y1="357.02" x2="278.3" y2="357.02" stroke="#fff" stroke-width="0.7"/>
<line x1="181.4" y1="376.38" x2="278.3" y2="376.38" stroke="#fff" stroke-width="0.7"/>
<line x1="181.4" y1="395.72" x2="278.3" y2="395.72" stroke="#fff" stroke-width="0.7"/>
<line x1="181.4" y1="415.07" x2="278.3" y2="415.07" stroke="#fff" stroke-width="0.7"/>
<line x1="181.4" y1="434.42" x2="278.3" y2="434.42" stroke="#fff" stroke-width="0.7"/>
<line x1="181.4" y1="453.77" x2="278.3" y2="453.77" stroke="#fff" stroke-width="0.7"/>
<line x1="181.4" y1="473.12" x2="278.3" y2="473.12" stroke="#fff" stroke-width="0.7"/>
<line x1="175.23" y1="353.2" x2="175.23" y2="446" stroke="#fff" stroke-width="1.35"/>
<line x1="195.3" y1="353.2" x2="195.3" y2="446" stroke="#fff" stroke-width="1.35"/>
<line x1="215.38" y1="353.2" x2="215.38" y2="446" stroke="#fff" stroke-width="1.35"/>
<line x1="235.45" y1="353.2" x2="235.45" y2="446" stroke="#fff" stroke-width="1.35"/>
<line x1="255.53" y1="353.2" x2="255.53" y2="446" stroke="#fff" stroke-width="1.35"/>
<line x1="275.6" y1="353.2" x2="275.6" y2="446" stroke="#fff" stroke-width="1.35"/>
<line x1="295.68" y1="353.2" x2="295.68" y2="446" stroke="#fff" stroke-width="1.35"/>
<line x1="181.4" y1="347.35" x2="278.3" y2="347.35" stroke="#fff" stroke-width="1.35"/>
<line x1="181.4" y1="366.7" x2="278.3" y2="366.7" stroke="#fff" stroke-width="1.35"/>
<line x1="181.4" y1="386.05" x2="278.3" y2="386.05" stroke="#fff" stroke-width="1.35"/>
<line x1="181.4" y1="405.4" x2="278.3" y2="405.4" stroke="#fff" stroke-width="1.35"/>
<line x1="181.4" y1="424.75" x2="278.3" y2="424.75" stroke="#fff" stroke-width="1.35"/>
<line x1="181.4" y1="444.1" x2="278.3" y2="444.1" stroke="#fff" stroke-width="1.35"/>
<line x1="181.4" y1="463.45" x2="278.3" y2="463.45" stroke="#fff" stroke-width="1.35"/>
<circle cx="187.6" cy="366.9" r="2.45" fill="#000000"/>
<circle cx="209.7" cy="357.6" r="2.45" fill="#000000"/>
<circle cx="223.9" cy="373.3" r="2.45" fill="#000000"/>
<circle cx="247.8" cy="381" r="2.45" fill="#4876FF"/>
<circle cx="215.7" cy="393.2" r="2.45" fill="#000000"/>
<circle cx="185.4" cy="394.3" r="2.45" fill="#FF1493"/>
<circle cx="274.1" cy="407.8" r="2.45" fill="#FF1493"/>
<circle cx="193.6" cy="413.3" r="2.45" fill="#000000"/>
<circle cx="191.6" cy="417.3" r="2.45" fill="#FF1493"/>
<circle cx="191.6" cy="420.2" r="2.45" fill="#4876FF"/>
<circle cx="231.8" cy="411.1" r="2.45" fill="#4876FF"/>
<circle cx="235.8" cy="422" r="2.45" fill="#4876FF"/>
<circle cx="262.1" cy="425.1" r="2.45" fill="#FF1493"/>
<circle cx="265.7" cy="425.1" r="2.45" fill="#FF1493"/>
<circle cx="268.1" cy="428.8" r="2.45" fill="#4876FF"/>
<circle cx="225.9" cy="432.1" r="2.45" fill="#FF1493"/>
<circle cx="274.1" cy="436.6" r="2.45" fill="#4876FF"/>
<path d="M185.4 372.42 L187.62 373.81 L189.84 375.18 L192.05 376.54 L194.27 377.88 L196.49 379.2 L198.71 380.51 L200.92 381.79 L203.14 383.05 L205.36 384.28 L207.58 385.48 L209.79 386.65 L212.01 387.78 L214.23 388.87 L216.45 389.92 L218.66 390.92 L220.88 391.87 L223.1 392.77 L225.31 393.62 L227.53 394.41 L229.75 395.14 L231.97 395.81 L234.19 396.43 L236.4 396.99 L238.62 397.5 L240.84 397.97 L243.06 398.38 L245.27 398.75 L247.49 399.09 L249.71 399.39 L251.93 399.65 L254.14 399.89 L256.36 400.09 L258.58 400.28 L260.8 400.44 L263.01 400.59 L265.23 400.71 L267.45 400.82 L269.67 400.92 L271.88 401 L274.1 401.08 L274.1 441.52 L271.88 440.13 L269.67 438.74 L267.45 437.37 L265.23 436.01 L263.01 434.66 L260.8 433.34 L258.58 432.03 L256.36 430.75 L254.14 429.48 L251.93 428.25 L249.71 427.04 L247.49 425.87 L245.27 424.74 L243.06 423.64 L240.84 422.58 L238.62 421.58 L236.4 420.62 L234.19 419.71 L231.97 418.86 L229.75 418.06 L227.53 417.32 L225.31 416.64 L223.1 416.02 L220.88 415.45 L218.66 414.93 L216.45 414.46 L214.23 414.04 L212.01 413.66 L209.79 413.32 L207.58 413.02 L205.36 412.75 L203.14 412.51 L200.92 412.3 L198.71 412.11 L196.49 411.95 L194.27 411.8 L192.05 411.67 L189.84 411.56 L187.62 411.46 L185.4 411.38 Z" fill="#B4B4B4" fill-opacity="0.35"/>
<line x1="181.4" y1="405.4" x2="278.3" y2="405.4" stroke="#7A7A7A" stroke-width="1.25"/>
<line x1="185.4" y1="391.9" x2="274.1" y2="421.3" stroke="#000" stroke-width="1.5" stroke-dasharray="9.5 4.8"/>
</g>
<rect x="181.4" y="330.6" width="96.9" height="22.6" fill="#D9D9D9"/>
<text x="230.85" y="346.6" font-size="11.5" fill="#262626" text-anchor="middle">PE-P 40:6</text>
<line x1="177.8" y1="366.7" x2="181.4" y2="366.7" stroke="#333333" stroke-width="1.1"/>
<text x="174.5" y="371" font-size="12" fill="#4D4D4D" text-anchor="end">1.0</text>
<line x1="177.8" y1="386.05" x2="181.4" y2="386.05" stroke="#333333" stroke-width="1.1"/>
<text x="174.5" y="390.35" font-size="12" fill="#4D4D4D" text-anchor="end">0.5</text>
<line x1="177.8" y1="405.4" x2="181.4" y2="405.4" stroke="#333333" stroke-width="1.1"/>
<text x="174.5" y="409.7" font-size="12" fill="#4D4D4D" text-anchor="end">0.0</text>
<line x1="177.8" y1="424.75" x2="181.4" y2="424.75" stroke="#333333" stroke-width="1.1"/>
<text x="174.5" y="429.05" font-size="12" fill="#4D4D4D" text-anchor="end">-0.5</text>
<line x1="177.8" y1="444.1" x2="181.4" y2="444.1" stroke="#333333" stroke-width="1.1"/>
<text x="174.5" y="448.4" font-size="12" fill="#4D4D4D" text-anchor="end">-1.0</text>
<line x1="195.3" y1="446" x2="195.3" y2="449.6" stroke="#333333" stroke-width="1.1"/>
<text x="195.3" y="461.8" font-size="12" fill="#4D4D4D" text-anchor="middle">6</text>
<line x1="215.38" y1="446" x2="215.38" y2="449.6" stroke="#333333" stroke-width="1.1"/>
<text x="215.38" y="461.8" font-size="12" fill="#4D4D4D" text-anchor="middle">7</text>
<line x1="235.45" y1="446" x2="235.45" y2="449.6" stroke="#333333" stroke-width="1.1"/>
<text x="235.45" y="461.8" font-size="12" fill="#4D4D4D" text-anchor="middle">8</text>
<line x1="255.53" y1="446" x2="255.53" y2="449.6" stroke="#333333" stroke-width="1.1"/>
<text x="255.53" y="461.8" font-size="12" fill="#4D4D4D" text-anchor="middle">9</text>
<line x1="275.6" y1="446" x2="275.6" y2="449.6" stroke="#333333" stroke-width="1.1"/>
<text x="275.6" y="461.8" font-size="12" fill="#4D4D4D" text-anchor="middle">10</text>
<clipPath id="c12"><rect x="314.9" y="351.6" width="97.4" height="92.7"/></clipPath>
<g clip-path="url(#c12)">
<rect x="314.9" y="351.6" width="97.4" height="92.7" fill="#EBEBEB"/>
<line x1="319.06" y1="351.6" x2="319.06" y2="444.3" stroke="#fff" stroke-width="0.7"/>
<line x1="339.14" y1="351.6" x2="339.14" y2="444.3" stroke="#fff" stroke-width="0.7"/>
<line x1="359.21" y1="351.6" x2="359.21" y2="444.3" stroke="#fff" stroke-width="0.7"/>
<line x1="379.29" y1="351.6" x2="379.29" y2="444.3" stroke="#fff" stroke-width="0.7"/>
<line x1="399.36" y1="351.6" x2="399.36" y2="444.3" stroke="#fff" stroke-width="0.7"/>
<line x1="419.44" y1="351.6" x2="419.44" y2="444.3" stroke="#fff" stroke-width="0.7"/>
<line x1="314.9" y1="357.65" x2="412.3" y2="357.65" stroke="#fff" stroke-width="0.7"/>
<line x1="314.9" y1="380.15" x2="412.3" y2="380.15" stroke="#fff" stroke-width="0.7"/>
<line x1="314.9" y1="402.65" x2="412.3" y2="402.65" stroke="#fff" stroke-width="0.7"/>
<line x1="314.9" y1="425.15" x2="412.3" y2="425.15" stroke="#fff" stroke-width="0.7"/>
<line x1="314.9" y1="447.65" x2="412.3" y2="447.65" stroke="#fff" stroke-width="0.7"/>
<line x1="314.9" y1="470.15" x2="412.3" y2="470.15" stroke="#fff" stroke-width="0.7"/>
<line x1="309.03" y1="351.6" x2="309.03" y2="444.3" stroke="#fff" stroke-width="1.35"/>
<line x1="329.1" y1="351.6" x2="329.1" y2="444.3" stroke="#fff" stroke-width="1.35"/>
<line x1="349.18" y1="351.6" x2="349.18" y2="444.3" stroke="#fff" stroke-width="1.35"/>
<line x1="369.25" y1="351.6" x2="369.25" y2="444.3" stroke="#fff" stroke-width="1.35"/>
<line x1="389.32" y1="351.6" x2="389.32" y2="444.3" stroke="#fff" stroke-width="1.35"/>
<line x1="409.4" y1="351.6" x2="409.4" y2="444.3" stroke="#fff" stroke-width="1.35"/>
<line x1="429.47" y1="351.6" x2="429.47" y2="444.3" stroke="#fff" stroke-width="1.35"/>
<line x1="314.9" y1="346.4" x2="412.3" y2="346.4" stroke="#fff" stroke-width="1.35"/>
<line x1="314.9" y1="368.9" x2="412.3" y2="368.9" stroke="#fff" stroke-width="1.35"/>
<line x1="314.9" y1="391.4" x2="412.3" y2="391.4" stroke="#fff" stroke-width="1.35"/>
<line x1="314.9" y1="413.9" x2="412.3" y2="413.9" stroke="#fff" stroke-width="1.35"/>
<line x1="314.9" y1="436.4" x2="412.3" y2="436.4" stroke="#fff" stroke-width="1.35"/>
<line x1="314.9" y1="458.9" x2="412.3" y2="458.9" stroke="#fff" stroke-width="1.35"/>
<circle cx="320.9" cy="361.4" r="2.45" fill="#000000"/>
<circle cx="343" cy="356.1" r="2.45" fill="#000000"/>
<circle cx="357.2" cy="360.9" r="2.45" fill="#000000"/>
<circle cx="318.9" cy="371.8" r="2.45" fill="#FF1493"/>
<circle cx="325.3" cy="372.6" r="2.45" fill="#4876FF"/>
<circle cx="381.3" cy="383.7" r="2.45" fill="#4876FF"/>
<circle cx="349.2" cy="386.4" r="2.45" fill="#000000"/>
<circle cx="327.1" cy="397.9" r="2.45" fill="#000000"/>
<circle cx="325.3" cy="401.2" r="2.45" fill="#FF1493"/>
<circle cx="407.4" cy="400.1" r="2.45" fill="#FF1493"/>
<circle cx="365.2" cy="404.3" r="2.45" fill="#4876FF"/>
<circle cx="369.4" cy="411.6" r="2.45" fill="#4876FF"/>
<circle cx="395.2" cy="411.8" r="2.45" fill="#FF1493"/>
<circle cx="399.4" cy="417.5" r="2.45" fill="#FF1493"/>
<circle cx="401.4" cy="423.5" r="2.45" fill="#4876FF"/>
<circle cx="359.2" cy="418.9" r="2.45" fill="#FF1493"/>
<circle cx="407.4" cy="440.5" r="2.45" fill="#4876FF"/>
<path d="M318.9 357.71 L321.11 359.35 L323.32 360.98 L325.54 362.6 L327.75 364.21 L329.96 365.8 L332.17 367.38 L334.39 368.94 L336.6 370.48 L338.81 372 L341.02 373.49 L343.24 374.96 L345.45 376.4 L347.66 377.81 L349.88 379.19 L352.09 380.53 L354.3 381.83 L356.51 383.09 L358.72 384.3 L360.94 385.47 L363.15 386.6 L365.36 387.68 L367.57 388.71 L369.79 389.71 L372 390.66 L374.21 391.57 L376.42 392.44 L378.64 393.29 L380.85 394.1 L383.06 394.88 L385.27 395.64 L387.49 396.37 L389.7 397.08 L391.91 397.78 L394.12 398.45 L396.34 399.11 L398.55 399.76 L400.76 400.39 L402.97 401.02 L405.19 401.63 L407.4 402.24 L407.4 434.16 L405.19 432.51 L402.97 430.87 L400.76 429.24 L398.55 427.62 L396.34 426.01 L394.12 424.42 L391.91 422.84 L389.7 421.28 L387.49 419.74 L385.27 418.21 L383.06 416.72 L380.85 415.24 L378.64 413.8 L376.42 412.39 L374.21 411.01 L372 409.66 L369.79 408.36 L367.57 407.1 L365.36 405.88 L363.15 404.7 L360.94 403.57 L358.72 402.49 L356.51 401.45 L354.3 400.45 L352.09 399.5 L349.88 398.58 L347.66 397.7 L345.45 396.86 L343.24 396.04 L341.02 395.26 L338.81 394.5 L336.6 393.76 L334.39 393.05 L332.17 392.35 L329.96 391.67 L327.75 391.01 L325.54 390.36 L323.32 389.73 L321.11 389.1 L318.9 388.49 Z" fill="#B4B4B4" fill-opacity="0.35"/>
<line x1="314.9" y1="391.4" x2="412.3" y2="391.4" stroke="#7A7A7A" stroke-width="1.25"/>
<line x1="318.9" y1="373.1" x2="407.4" y2="418.2" stroke="#000" stroke-width="1.5"/>
</g>
<rect x="314.9" y="329.5" width="97.4" height="22.1" fill="#D9D9D9"/>
<text x="364.6" y="345.25" font-size="11.5" fill="#262626" text-anchor="middle">TG 54:6</text>
<line x1="311.3" y1="368.9" x2="314.9" y2="368.9" stroke="#333333" stroke-width="1.1"/>
<text x="308" y="373.2" font-size="12" fill="#4D4D4D" text-anchor="end">0.5</text>
<line x1="311.3" y1="391.4" x2="314.9" y2="391.4" stroke="#333333" stroke-width="1.1"/>
<text x="308" y="395.7" font-size="12" fill="#4D4D4D" text-anchor="end">0.0</text>
<line x1="311.3" y1="413.9" x2="314.9" y2="413.9" stroke="#333333" stroke-width="1.1"/>
<text x="308" y="418.2" font-size="12" fill="#4D4D4D" text-anchor="end">-0.5</text>
<line x1="311.3" y1="436.4" x2="314.9" y2="436.4" stroke="#333333" stroke-width="1.1"/>
<text x="308" y="440.7" font-size="12" fill="#4D4D4D" text-anchor="end">-1.0</text>
<line x1="329.1" y1="444.3" x2="329.1" y2="447.9" stroke="#333333" stroke-width="1.1"/>
<text x="329.1" y="460.1" font-size="12" fill="#4D4D4D" text-anchor="middle">6</text>
<line x1="349.18" y1="444.3" x2="349.18" y2="447.9" stroke="#333333" stroke-width="1.1"/>
<text x="349.18" y="460.1" font-size="12" fill="#4D4D4D" text-anchor="middle">7</text>
<line x1="369.25" y1="444.3" x2="369.25" y2="447.9" stroke="#333333" stroke-width="1.1"/>
<text x="369.25" y="460.1" font-size="12" fill="#4D4D4D" text-anchor="middle">8</text>
<line x1="389.32" y1="444.3" x2="389.32" y2="447.9" stroke="#333333" stroke-width="1.1"/>
<text x="389.32" y="460.1" font-size="12" fill="#4D4D4D" text-anchor="middle">9</text>
<line x1="409.4" y1="444.3" x2="409.4" y2="447.9" stroke="#333333" stroke-width="1.1"/>
<text x="409.4" y="460.1" font-size="12" fill="#4D4D4D" text-anchor="middle">10</text>
<clipPath id="c13"><rect x="446.5" y="351.4" width="97.3" height="92.9"/></clipPath>
<g clip-path="url(#c13)">
<rect x="446.5" y="351.4" width="97.3" height="92.9" fill="#EBEBEB"/>
<line x1="450.84" y1="351.4" x2="450.84" y2="444.3" stroke="#fff" stroke-width="0.7"/>
<line x1="470.96" y1="351.4" x2="470.96" y2="444.3" stroke="#fff" stroke-width="0.7"/>
<line x1="491.09" y1="351.4" x2="491.09" y2="444.3" stroke="#fff" stroke-width="0.7"/>
<line x1="511.21" y1="351.4" x2="511.21" y2="444.3" stroke="#fff" stroke-width="0.7"/>
<line x1="531.34" y1="351.4" x2="531.34" y2="444.3" stroke="#fff" stroke-width="0.7"/>
<line x1="551.46" y1="351.4" x2="551.46" y2="444.3" stroke="#fff" stroke-width="0.7"/>
<line x1="446.5" y1="349.32" x2="543.8" y2="349.32" stroke="#fff" stroke-width="0.7"/>
<line x1="446.5" y1="367.07" x2="543.8" y2="367.07" stroke="#fff" stroke-width="0.7"/>
<line x1="446.5" y1="384.82" x2="543.8" y2="384.82" stroke="#fff" stroke-width="0.7"/>
<line x1="446.5" y1="402.57" x2="543.8" y2="402.57" stroke="#fff" stroke-width="0.7"/>
<line x1="446.5" y1="420.32" x2="543.8" y2="420.32" stroke="#fff" stroke-width="0.7"/>
<line x1="446.5" y1="438.07" x2="543.8" y2="438.07" stroke="#fff" stroke-width="0.7"/>
<line x1="446.5" y1="455.82" x2="543.8" y2="455.82" stroke="#fff" stroke-width="0.7"/>
<line x1="440.77" y1="351.4" x2="440.77" y2="444.3" stroke="#fff" stroke-width="1.35"/>
<line x1="460.9" y1="351.4" x2="460.9" y2="444.3" stroke="#fff" stroke-width="1.35"/>
<line x1="481.02" y1="351.4" x2="481.02" y2="444.3" stroke="#fff" stroke-width="1.35"/>
<line x1="501.15" y1="351.4" x2="501.15" y2="444.3" stroke="#fff" stroke-width="1.35"/>
<line x1="521.27" y1="351.4" x2="521.27" y2="444.3" stroke="#fff" stroke-width="1.35"/>
<line x1="541.4" y1="351.4" x2="541.4" y2="444.3" stroke="#fff" stroke-width="1.35"/>
<line x1="561.52" y1="351.4" x2="561.52" y2="444.3" stroke="#fff" stroke-width="1.35"/>
<line x1="446.5" y1="340.45" x2="543.8" y2="340.45" stroke="#fff" stroke-width="1.35"/>
<line x1="446.5" y1="358.2" x2="543.8" y2="358.2" stroke="#fff" stroke-width="1.35"/>
<line x1="446.5" y1="375.95" x2="543.8" y2="375.95" stroke="#fff" stroke-width="1.35"/>
<line x1="446.5" y1="393.7" x2="543.8" y2="393.7" stroke="#fff" stroke-width="1.35"/>
<line x1="446.5" y1="411.45" x2="543.8" y2="411.45" stroke="#fff" stroke-width="1.35"/>
<line x1="446.5" y1="429.2" x2="543.8" y2="429.2" stroke="#fff" stroke-width="1.35"/>
<line x1="446.5" y1="446.95" x2="543.8" y2="446.95" stroke="#fff" stroke-width="1.35"/>
<circle cx="452.9" cy="360.9" r="2.45" fill="#000000"/>
<circle cx="475" cy="359.4" r="2.45" fill="#000000"/>
<circle cx="489.2" cy="358.9" r="2.45" fill="#000000"/>
<circle cx="450.7" cy="373.1" r="2.45" fill="#FF1493"/>
<circle cx="513.1" cy="374.4" r="2.45" fill="#4876FF"/>
<circle cx="481" cy="378.2" r="2.45" fill="#000000"/>
<circle cx="456.9" cy="382.4" r="2.45" fill="#4876FF"/>
<circle cx="459.1" cy="401" r="2.45" fill="#000000"/>
<circle cx="456.9" cy="403.6" r="2.45" fill="#FF1493"/>
<circle cx="539.4" cy="397.4" r="2.45" fill="#FF1493"/>
<circle cx="497.1" cy="402.7" r="2.45" fill="#4876FF"/>
<circle cx="501.1" cy="405.8" r="2.45" fill="#4876FF"/>
<circle cx="527.2" cy="402.7" r="2.45" fill="#FF1493"/>
<circle cx="533.4" cy="414.4" r="2.45" fill="#4876FF"/>
<circle cx="491.2" cy="418.2" r="2.45" fill="#FF1493"/>
<circle cx="531.2" cy="439.4" r="2.45" fill="#FF1493"/>
<circle cx="539.4" cy="440.5" r="2.45" fill="#4876FF"/>
<path d="M450.7 356.66 L452.92 358.29 L455.13 359.92 L457.35 361.53 L459.57 363.12 L461.79 364.7 L464 366.27 L466.22 367.81 L468.44 369.33 L470.66 370.83 L472.88 372.3 L475.09 373.74 L477.31 375.15 L479.53 376.52 L481.75 377.85 L483.96 379.14 L486.18 380.39 L488.4 381.59 L490.62 382.74 L492.83 383.83 L495.05 384.88 L497.27 385.88 L499.48 386.82 L501.7 387.72 L503.92 388.57 L506.14 389.37 L508.35 390.13 L510.57 390.86 L512.79 391.54 L515.01 392.2 L517.23 392.83 L519.44 393.43 L521.66 394 L523.88 394.56 L526.1 395.09 L528.31 395.61 L530.53 396.11 L532.75 396.6 L534.96 397.08 L537.18 397.54 L539.4 397.99 L539.4 434.41 L537.18 432.76 L534.96 431.12 L532.75 429.5 L530.53 427.89 L528.31 426.29 L526.1 424.71 L523.88 423.14 L521.66 421.6 L519.44 420.07 L517.23 418.57 L515.01 417.1 L512.79 415.66 L510.57 414.24 L508.35 412.87 L506.14 411.53 L503.92 410.23 L501.7 408.98 L499.48 407.78 L497.27 406.62 L495.05 405.52 L492.83 404.47 L490.62 403.46 L488.4 402.51 L486.18 401.61 L483.96 400.76 L481.75 399.95 L479.53 399.18 L477.31 398.45 L475.09 397.76 L472.88 397.1 L470.66 396.47 L468.44 395.87 L466.22 395.29 L464 394.73 L461.79 394.2 L459.57 393.68 L457.35 393.17 L455.13 392.68 L452.92 392.21 L450.7 391.74 Z" fill="#B4B4B4" fill-opacity="0.35"/>
<line x1="446.5" y1="393.7" x2="543.8" y2="393.7" stroke="#7A7A7A" stroke-width="1.25"/>
<line x1="450.7" y1="374.2" x2="539.4" y2="416.2" stroke="#000" stroke-width="1.5"/>
</g>
<rect x="446.5" y="329.5" width="97.3" height="21.9" fill="#D9D9D9"/>
<text x="489.8" y="345.15" font-size="11.5" fill="#262626" text-anchor="middle">TG 54:7</text>
<line x1="442.9" y1="358.2" x2="446.5" y2="358.2" stroke="#333333" stroke-width="1.1"/>
<text x="439.6" y="362.5" font-size="12" fill="#4D4D4D" text-anchor="end">1.0</text>
<line x1="442.9" y1="375.95" x2="446.5" y2="375.95" stroke="#333333" stroke-width="1.1"/>
<text x="439.6" y="380.25" font-size="12" fill="#4D4D4D" text-anchor="end">0.5</text>
<line x1="442.9" y1="393.7" x2="446.5" y2="393.7" stroke="#333333" stroke-width="1.1"/>
<text x="439.6" y="398" font-size="12" fill="#4D4D4D" text-anchor="end">0.0</text>
<line x1="442.9" y1="411.45" x2="446.5" y2="411.45" stroke="#333333" stroke-width="1.1"/>
<text x="439.6" y="415.75" font-size="12" fill="#4D4D4D" text-anchor="end">-0.5</text>
<line x1="442.9" y1="429.2" x2="446.5" y2="429.2" stroke="#333333" stroke-width="1.1"/>
<text x="439.6" y="433.5" font-size="12" fill="#4D4D4D" text-anchor="end">-1.0</text>
<line x1="460.9" y1="444.3" x2="460.9" y2="447.9" stroke="#333333" stroke-width="1.1"/>
<text x="460.9" y="460.1" font-size="12" fill="#4D4D4D" text-anchor="middle">6</text>
<line x1="481.02" y1="444.3" x2="481.02" y2="447.9" stroke="#333333" stroke-width="1.1"/>
<text x="481.02" y="460.1" font-size="12" fill="#4D4D4D" text-anchor="middle">7</text>
<line x1="501.15" y1="444.3" x2="501.15" y2="447.9" stroke="#333333" stroke-width="1.1"/>
<text x="501.15" y="460.1" font-size="12" fill="#4D4D4D" text-anchor="middle">8</text>
<line x1="521.27" y1="444.3" x2="521.27" y2="447.9" stroke="#333333" stroke-width="1.1"/>
<text x="521.27" y="460.1" font-size="12" fill="#4D4D4D" text-anchor="middle">9</text>
<line x1="541.4" y1="444.3" x2="541.4" y2="447.9" stroke="#333333" stroke-width="1.1"/>
<text x="541.4" y="460.1" font-size="12" fill="#4D4D4D" text-anchor="middle">10</text>
<clipPath id="c14"><rect x="583.5" y="353.9" width="96.5" height="92.8"/></clipPath>
<g clip-path="url(#c14)">
<rect x="583.5" y="353.9" width="96.5" height="92.8" fill="#EBEBEB"/>
<line x1="587.22" y1="353.9" x2="587.22" y2="446.7" stroke="#fff" stroke-width="0.7"/>
<line x1="607.38" y1="353.9" x2="607.38" y2="446.7" stroke="#fff" stroke-width="0.7"/>
<line x1="627.52" y1="353.9" x2="627.52" y2="446.7" stroke="#fff" stroke-width="0.7"/>
<line x1="647.67" y1="353.9" x2="647.67" y2="446.7" stroke="#fff" stroke-width="0.7"/>
<line x1="667.82" y1="353.9" x2="667.82" y2="446.7" stroke="#fff" stroke-width="0.7"/>
<line x1="687.98" y1="353.9" x2="687.98" y2="446.7" stroke="#fff" stroke-width="0.7"/>
<line x1="583.5" y1="350" x2="680" y2="350" stroke="#fff" stroke-width="0.7"/>
<line x1="583.5" y1="369.6" x2="680" y2="369.6" stroke="#fff" stroke-width="0.7"/>
<line x1="583.5" y1="389.2" x2="680" y2="389.2" stroke="#fff" stroke-width="0.7"/>
<line x1="583.5" y1="408.8" x2="680" y2="408.8" stroke="#fff" stroke-width="0.7"/>
<line x1="583.5" y1="428.4" x2="680" y2="428.4" stroke="#fff" stroke-width="0.7"/>
<line x1="583.5" y1="448" x2="680" y2="448" stroke="#fff" stroke-width="0.7"/>
<line x1="583.5" y1="467.6" x2="680" y2="467.6" stroke="#fff" stroke-width="0.7"/>
<line x1="577.15" y1="353.9" x2="577.15" y2="446.7" stroke="#fff" stroke-width="1.35"/>
<line x1="597.3" y1="353.9" x2="597.3" y2="446.7" stroke="#fff" stroke-width="1.35"/>
<line x1="617.45" y1="353.9" x2="617.45" y2="446.7" stroke="#fff" stroke-width="1.35"/>
<line x1="637.6" y1="353.9" x2="637.6" y2="446.7" stroke="#fff" stroke-width="1.35"/>
<line x1="657.75" y1="353.9" x2="657.75" y2="446.7" stroke="#fff" stroke-width="1.35"/>
<line x1="677.9" y1="353.9" x2="677.9" y2="446.7" stroke="#fff" stroke-width="1.35"/>
<line x1="698.05" y1="353.9" x2="698.05" y2="446.7" stroke="#fff" stroke-width="1.35"/>
<line x1="583.5" y1="340.2" x2="680" y2="340.2" stroke="#fff" stroke-width="1.35"/>
<line x1="583.5" y1="359.8" x2="680" y2="359.8" stroke="#fff" stroke-width="1.35"/>
<line x1="583.5" y1="379.4" x2="680" y2="379.4" stroke="#fff" stroke-width="1.35"/>
<line x1="583.5" y1="399" x2="680" y2="399" stroke="#fff" stroke-width="1.35"/>
<line x1="583.5" y1="418.6" x2="680" y2="418.6" stroke="#fff" stroke-width="1.35"/>
<line x1="583.5" y1="438.2" x2="680" y2="438.2" stroke="#fff" stroke-width="1.35"/>
<line x1="583.5" y1="457.8" x2="680" y2="457.8" stroke="#fff" stroke-width="1.35"/>
<circle cx="611.7" cy="358.5" r="2.45" fill="#000000"/>
<circle cx="589.2" cy="374.5" r="2.45" fill="#000000"/>
<circle cx="625.4" cy="378.9" r="2.45" fill="#000000"/>
<circle cx="649.9" cy="378.9" r="2.45" fill="#4876FF"/>
<circle cx="617.4" cy="387.1" r="2.45" fill="#000000"/>
<circle cx="593.6" cy="394.4" r="2.45" fill="#4876FF"/>
<circle cx="593.6" cy="398.3" r="2.45" fill="#FF1493"/>
<circle cx="587.4" cy="398.3" r="2.45" fill="#FF1493"/>
<circle cx="667.8" cy="394.2" r="2.45" fill="#FF1493"/>
<circle cx="633.4" cy="402.7" r="2.45" fill="#4876FF"/>
<circle cx="675.8" cy="404.5" r="2.45" fill="#FF1493"/>
<circle cx="595.4" cy="411.4" r="2.45" fill="#000000"/>
<circle cx="627.5" cy="421.9" r="2.45" fill="#FF1493"/>
<circle cx="637.6" cy="422.4" r="2.45" fill="#4876FF"/>
<circle cx="663.7" cy="415.7" r="2.45" fill="#FF1493"/>
<circle cx="669.6" cy="419.9" r="2.45" fill="#4876FF"/>
<circle cx="675.8" cy="443" r="2.45" fill="#4876FF"/>
<path d="M587.4 371.52 L589.61 372.71 L591.82 373.9 L594.03 375.07 L596.24 376.22 L598.45 377.37 L600.66 378.49 L602.87 379.6 L605.08 380.69 L607.29 381.76 L609.5 382.8 L611.71 383.81 L613.92 384.8 L616.13 385.75 L618.34 386.66 L620.55 387.54 L622.76 388.37 L624.97 389.16 L627.18 389.91 L629.39 390.61 L631.6 391.26 L633.81 391.87 L636.02 392.43 L638.23 392.94 L640.44 393.42 L642.65 393.85 L644.86 394.24 L647.07 394.6 L649.28 394.92 L651.49 395.22 L653.7 395.49 L655.91 395.73 L658.12 395.95 L660.33 396.16 L662.54 396.34 L664.75 396.51 L666.96 396.67 L669.17 396.81 L671.38 396.94 L673.59 397.06 L675.8 397.17 L675.8 430.63 L673.59 429.43 L671.38 428.23 L669.17 427.05 L666.96 425.87 L664.75 424.71 L662.54 423.57 L660.33 422.44 L658.12 421.33 L655.91 420.23 L653.7 419.16 L651.49 418.12 L649.28 417.1 L647.07 416.11 L644.86 415.15 L642.65 414.23 L640.44 413.34 L638.23 412.5 L636.02 411.7 L633.81 410.94 L631.6 410.24 L629.39 409.57 L627.18 408.96 L624.97 408.39 L622.76 407.87 L620.55 407.39 L618.34 406.95 L616.13 406.55 L613.92 406.18 L611.71 405.85 L609.5 405.55 L607.29 405.28 L605.08 405.03 L602.87 404.8 L600.66 404.6 L598.45 404.41 L596.24 404.24 L594.03 404.08 L591.82 403.93 L589.61 403.8 L587.4 403.68 Z" fill="#B4B4B4" fill-opacity="0.35"/>
<line x1="583.5" y1="399" x2="680" y2="399" stroke="#7A7A7A" stroke-width="1.25"/>
<line x1="587.4" y1="387.6" x2="675.8" y2="413.9" stroke="#000" stroke-width="1.5" stroke-dasharray="9.5 4.8"/>
</g>
<rect x="583.5" y="331.9" width="96.5" height="22" fill="#D9D9D9"/>
<text x="630.4" y="347.6" font-size="11.5" fill="#262626" text-anchor="middle">TG 56:6</text>
<line x1="579.9" y1="359.8" x2="583.5" y2="359.8" stroke="#333333" stroke-width="1.1"/>
<text x="576.6" y="364.1" font-size="12" fill="#4D4D4D" text-anchor="end">1.0</text>
<line x1="579.9" y1="379.4" x2="583.5" y2="379.4" stroke="#333333" stroke-width="1.1"/>
<text x="576.6" y="383.7" font-size="12" fill="#4D4D4D" text-anchor="end">0.5</text>
<line x1="579.9" y1="399" x2="583.5" y2="399" stroke="#333333" stroke-width="1.1"/>
<text x="576.6" y="403.3" font-size="12" fill="#4D4D4D" text-anchor="end">0.0</text>
<line x1="579.9" y1="418.6" x2="583.5" y2="418.6" stroke="#333333" stroke-width="1.1"/>
<text x="576.6" y="422.9" font-size="12" fill="#4D4D4D" text-anchor="end">-0.5</text>
<line x1="579.9" y1="438.2" x2="583.5" y2="438.2" stroke="#333333" stroke-width="1.1"/>
<text x="576.6" y="442.5" font-size="12" fill="#4D4D4D" text-anchor="end">-1.0</text>
<line x1="597.3" y1="446.7" x2="597.3" y2="450.3" stroke="#333333" stroke-width="1.1"/>
<text x="597.3" y="462.5" font-size="12" fill="#4D4D4D" text-anchor="middle">6</text>
<line x1="617.45" y1="446.7" x2="617.45" y2="450.3" stroke="#333333" stroke-width="1.1"/>
<text x="617.45" y="462.5" font-size="12" fill="#4D4D4D" text-anchor="middle">7</text>
<line x1="637.6" y1="446.7" x2="637.6" y2="450.3" stroke="#333333" stroke-width="1.1"/>
<text x="637.6" y="462.5" font-size="12" fill="#4D4D4D" text-anchor="middle">8</text>
<line x1="657.75" y1="446.7" x2="657.75" y2="450.3" stroke="#333333" stroke-width="1.1"/>
<text x="657.75" y="462.5" font-size="12" fill="#4D4D4D" text-anchor="middle">9</text>
<line x1="677.9" y1="446.7" x2="677.9" y2="450.3" stroke="#333333" stroke-width="1.1"/>
<text x="677.9" y="462.5" font-size="12" fill="#4D4D4D" text-anchor="middle">10</text>
<clipPath id="c15"><rect x="48.3" y="495.3" width="97.3" height="92.5"/></clipPath>
<g clip-path="url(#c15)">
<rect x="48.3" y="495.3" width="97.3" height="92.5" fill="#EBEBEB"/>
<line x1="52.64" y1="495.3" x2="52.64" y2="587.8" stroke="#fff" stroke-width="0.7"/>
<line x1="72.76" y1="495.3" x2="72.76" y2="587.8" stroke="#fff" stroke-width="0.7"/>
<line x1="92.89" y1="495.3" x2="92.89" y2="587.8" stroke="#fff" stroke-width="0.7"/>
<line x1="113.01" y1="495.3" x2="113.01" y2="587.8" stroke="#fff" stroke-width="0.7"/>
<line x1="133.14" y1="495.3" x2="133.14" y2="587.8" stroke="#fff" stroke-width="0.7"/>
<line x1="153.26" y1="495.3" x2="153.26" y2="587.8" stroke="#fff" stroke-width="0.7"/>
<line x1="48.3" y1="493.35" x2="145.6" y2="493.35" stroke="#fff" stroke-width="0.7"/>
<line x1="48.3" y1="511.05" x2="145.6" y2="511.05" stroke="#fff" stroke-width="0.7"/>
<line x1="48.3" y1="528.75" x2="145.6" y2="528.75" stroke="#fff" stroke-width="0.7"/>
<line x1="48.3" y1="546.45" x2="145.6" y2="546.45" stroke="#fff" stroke-width="0.7"/>
<line x1="48.3" y1="564.15" x2="145.6" y2="564.15" stroke="#fff" stroke-width="0.7"/>
<line x1="48.3" y1="581.85" x2="145.6" y2="581.85" stroke="#fff" stroke-width="0.7"/>
<line x1="48.3" y1="599.55" x2="145.6" y2="599.55" stroke="#fff" stroke-width="0.7"/>
<line x1="42.58" y1="495.3" x2="42.58" y2="587.8" stroke="#fff" stroke-width="1.35"/>
<line x1="62.7" y1="495.3" x2="62.7" y2="587.8" stroke="#fff" stroke-width="1.35"/>
<line x1="82.83" y1="495.3" x2="82.83" y2="587.8" stroke="#fff" stroke-width="1.35"/>
<line x1="102.95" y1="495.3" x2="102.95" y2="587.8" stroke="#fff" stroke-width="1.35"/>
<line x1="123.07" y1="495.3" x2="123.07" y2="587.8" stroke="#fff" stroke-width="1.35"/>
<line x1="143.2" y1="495.3" x2="143.2" y2="587.8" stroke="#fff" stroke-width="1.35"/>
<line x1="163.32" y1="495.3" x2="163.32" y2="587.8" stroke="#fff" stroke-width="1.35"/>
<line x1="48.3" y1="484.5" x2="145.6" y2="484.5" stroke="#fff" stroke-width="1.35"/>
<line x1="48.3" y1="502.2" x2="145.6" y2="502.2" stroke="#fff" stroke-width="1.35"/>
<line x1="48.3" y1="519.9" x2="145.6" y2="519.9" stroke="#fff" stroke-width="1.35"/>
<line x1="48.3" y1="537.6" x2="145.6" y2="537.6" stroke="#fff" stroke-width="1.35"/>
<line x1="48.3" y1="555.3" x2="145.6" y2="555.3" stroke="#fff" stroke-width="1.35"/>
<line x1="48.3" y1="573" x2="145.6" y2="573" stroke="#fff" stroke-width="1.35"/>
<line x1="48.3" y1="590.7" x2="145.6" y2="590.7" stroke="#fff" stroke-width="1.35"/>
<circle cx="54.7" cy="504.8" r="2.45" fill="#000000"/>
<circle cx="77.1" cy="503" r="2.45" fill="#000000"/>
<circle cx="91" cy="502.6" r="2.45" fill="#000000"/>
<circle cx="52.7" cy="516.8" r="2.45" fill="#FF1493"/>
<circle cx="115.1" cy="518.3" r="2.45" fill="#4876FF"/>
<circle cx="83" cy="521.8" r="2.45" fill="#000000"/>
<circle cx="58.9" cy="525.8" r="2.45" fill="#4876FF"/>
<circle cx="60.9" cy="544.6" r="2.45" fill="#000000"/>
<circle cx="58.9" cy="547.1" r="2.45" fill="#FF1493"/>
<circle cx="141.4" cy="541.1" r="2.45" fill="#FF1493"/>
<circle cx="99" cy="546.2" r="2.45" fill="#4876FF"/>
<circle cx="103.2" cy="549.7" r="2.45" fill="#4876FF"/>
<circle cx="129" cy="546.2" r="2.45" fill="#FF1493"/>
<circle cx="135" cy="557.5" r="2.45" fill="#4876FF"/>
<circle cx="93" cy="561.7" r="2.45" fill="#FF1493"/>
<circle cx="133.2" cy="583.1" r="2.45" fill="#FF1493"/>
<circle cx="141.4" cy="584.4" r="2.45" fill="#4876FF"/>
<path d="M52.7 500.43 L54.92 502.06 L57.14 503.68 L59.35 505.29 L61.57 506.88 L63.79 508.45 L66.01 510.01 L68.22 511.54 L70.44 513.06 L72.66 514.55 L74.88 516.01 L77.09 517.44 L79.31 518.84 L81.53 520.21 L83.75 521.53 L85.96 522.81 L88.18 524.05 L90.4 525.24 L92.62 526.38 L94.83 527.46 L97.05 528.5 L99.27 529.48 L101.49 530.41 L103.7 531.3 L105.92 532.13 L108.14 532.92 L110.36 533.67 L112.57 534.38 L114.79 535.05 L117.01 535.69 L119.23 536.31 L121.44 536.89 L123.66 537.45 L125.88 537.99 L128.1 538.51 L130.31 539.02 L132.53 539.5 L134.75 539.98 L136.97 540.43 L139.18 540.88 L141.4 541.32 L141.4 578.08 L139.18 576.44 L136.97 574.81 L134.75 573.18 L132.53 571.58 L130.31 569.98 L128.1 568.41 L125.88 566.85 L123.66 565.31 L121.44 563.79 L119.23 562.29 L117.01 560.83 L114.79 559.39 L112.57 557.98 L110.36 556.61 L108.14 555.28 L105.92 553.99 L103.7 552.74 L101.49 551.55 L99.27 550.4 L97.05 549.3 L94.83 548.26 L92.62 547.26 L90.4 546.32 L88.18 545.43 L85.96 544.59 L83.75 543.79 L81.53 543.03 L79.31 542.32 L77.09 541.64 L74.88 540.99 L72.66 540.37 L70.44 539.78 L68.22 539.22 L66.01 538.67 L63.79 538.15 L61.57 537.64 L59.35 537.15 L57.14 536.68 L54.92 536.22 L52.7 535.77 Z" fill="#B4B4B4" fill-opacity="0.35"/>
<line x1="48.3" y1="537.6" x2="145.6" y2="537.6" stroke="#7A7A7A" stroke-width="1.25"/>
<line x1="52.7" y1="518.1" x2="141.4" y2="559.7" stroke="#000" stroke-width="1.5"/>
</g>
<rect x="48.3" y="473.2" width="97.3" height="22.1" fill="#D9D9D9"/>
<text x="97.15" y="488.95" font-size="11.5" fill="#262626" text-anchor="middle">TG 56:7</text>
<line x1="44.7" y1="502.2" x2="48.3" y2="502.2" stroke="#333333" stroke-width="1.1"/>
<text x="41.4" y="506.5" font-size="12" fill="#4D4D4D" text-anchor="end">1.0</text>
<line x1="44.7" y1="519.9" x2="48.3" y2="519.9" stroke="#333333" stroke-width="1.1"/>
<text x="41.4" y="524.2" font-size="12" fill="#4D4D4D" text-anchor="end">0.5</text>
<line x1="44.7" y1="537.6" x2="48.3" y2="537.6" stroke="#333333" stroke-width="1.1"/>
<text x="41.4" y="541.9" font-size="12" fill="#4D4D4D" text-anchor="end">0.0</text>
<line x1="44.7" y1="555.3" x2="48.3" y2="555.3" stroke="#333333" stroke-width="1.1"/>
<text x="41.4" y="559.6" font-size="12" fill="#4D4D4D" text-anchor="end">-0.5</text>
<line x1="44.7" y1="573" x2="48.3" y2="573" stroke="#333333" stroke-width="1.1"/>
<text x="41.4" y="577.3" font-size="12" fill="#4D4D4D" text-anchor="end">-1.0</text>
<line x1="62.7" y1="587.8" x2="62.7" y2="591.4" stroke="#333333" stroke-width="1.1"/>
<text x="62.7" y="603.6" font-size="12" fill="#4D4D4D" text-anchor="middle">6</text>
<line x1="82.83" y1="587.8" x2="82.83" y2="591.4" stroke="#333333" stroke-width="1.1"/>
<text x="82.83" y="603.6" font-size="12" fill="#4D4D4D" text-anchor="middle">7</text>
<line x1="102.95" y1="587.8" x2="102.95" y2="591.4" stroke="#333333" stroke-width="1.1"/>
<text x="102.95" y="603.6" font-size="12" fill="#4D4D4D" text-anchor="middle">8</text>
<line x1="123.07" y1="587.8" x2="123.07" y2="591.4" stroke="#333333" stroke-width="1.1"/>
<text x="123.07" y="603.6" font-size="12" fill="#4D4D4D" text-anchor="middle">9</text>
<line x1="143.2" y1="587.8" x2="143.2" y2="591.4" stroke="#333333" stroke-width="1.1"/>
<text x="143.2" y="603.6" font-size="12" fill="#4D4D4D" text-anchor="middle">10</text>
<clipPath id="c16"><rect x="183.2" y="495.3" width="96.6" height="92.9"/></clipPath>
<g clip-path="url(#c16)">
<rect x="183.2" y="495.3" width="96.6" height="92.9" fill="#EBEBEB"/>
<line x1="186.81" y1="495.3" x2="186.81" y2="588.2" stroke="#fff" stroke-width="0.7"/>
<line x1="206.99" y1="495.3" x2="206.99" y2="588.2" stroke="#fff" stroke-width="0.7"/>
<line x1="227.16" y1="495.3" x2="227.16" y2="588.2" stroke="#fff" stroke-width="0.7"/>
<line x1="247.34" y1="495.3" x2="247.34" y2="588.2" stroke="#fff" stroke-width="0.7"/>
<line x1="267.51" y1="495.3" x2="267.51" y2="588.2" stroke="#fff" stroke-width="0.7"/>
<line x1="287.69" y1="495.3" x2="287.69" y2="588.2" stroke="#fff" stroke-width="0.7"/>
<line x1="183.2" y1="502.05" x2="279.8" y2="502.05" stroke="#fff" stroke-width="0.7"/>
<line x1="183.2" y1="525.55" x2="279.8" y2="525.55" stroke="#fff" stroke-width="0.7"/>
<line x1="183.2" y1="549.05" x2="279.8" y2="549.05" stroke="#fff" stroke-width="0.7"/>
<line x1="183.2" y1="572.55" x2="279.8" y2="572.55" stroke="#fff" stroke-width="0.7"/>
<line x1="183.2" y1="596.05" x2="279.8" y2="596.05" stroke="#fff" stroke-width="0.7"/>
<line x1="183.2" y1="619.55" x2="279.8" y2="619.55" stroke="#fff" stroke-width="0.7"/>
<line x1="176.72" y1="495.3" x2="176.72" y2="588.2" stroke="#fff" stroke-width="1.35"/>
<line x1="196.9" y1="495.3" x2="196.9" y2="588.2" stroke="#fff" stroke-width="1.35"/>
<line x1="217.08" y1="495.3" x2="217.08" y2="588.2" stroke="#fff" stroke-width="1.35"/>
<line x1="237.25" y1="495.3" x2="237.25" y2="588.2" stroke="#fff" stroke-width="1.35"/>
<line x1="257.43" y1="495.3" x2="257.43" y2="588.2" stroke="#fff" stroke-width="1.35"/>
<line x1="277.6" y1="495.3" x2="277.6" y2="588.2" stroke="#fff" stroke-width="1.35"/>
<line x1="297.78" y1="495.3" x2="297.78" y2="588.2" stroke="#fff" stroke-width="1.35"/>
<line x1="183.2" y1="490.3" x2="279.8" y2="490.3" stroke="#fff" stroke-width="1.35"/>
<line x1="183.2" y1="513.8" x2="279.8" y2="513.8" stroke="#fff" stroke-width="1.35"/>
<line x1="183.2" y1="537.3" x2="279.8" y2="537.3" stroke="#fff" stroke-width="1.35"/>
<line x1="183.2" y1="560.8" x2="279.8" y2="560.8" stroke="#fff" stroke-width="1.35"/>
<line x1="183.2" y1="584.3" x2="279.8" y2="584.3" stroke="#fff" stroke-width="1.35"/>
<line x1="183.2" y1="607.8" x2="279.8" y2="607.8" stroke="#fff" stroke-width="1.35"/>
<circle cx="189.4" cy="503.3" r="2.45" fill="#000000"/>
<circle cx="211.3" cy="499.7" r="2.45" fill="#000000"/>
<circle cx="225.4" cy="511.2" r="2.45" fill="#000000"/>
<circle cx="217.5" cy="516.8" r="2.45" fill="#000000"/>
<circle cx="193.4" cy="517.9" r="2.45" fill="#4876FF"/>
<circle cx="187.2" cy="531.4" r="2.45" fill="#FF1493"/>
<circle cx="249.5" cy="524.3" r="2.45" fill="#4876FF"/>
<circle cx="275.6" cy="522.5" r="2.45" fill="#FF1493"/>
<circle cx="233.4" cy="535.1" r="2.45" fill="#4876FF"/>
<circle cx="195.3" cy="539.1" r="2.45" fill="#000000"/>
<circle cx="193.4" cy="542" r="2.45" fill="#FF1493"/>
<circle cx="267.5" cy="551.3" r="2.45" fill="#FF1493"/>
<circle cx="227.4" cy="560.6" r="2.45" fill="#FF1493"/>
<circle cx="237.4" cy="559" r="2.45" fill="#4876FF"/>
<circle cx="263.5" cy="566.1" r="2.45" fill="#FF1493"/>
<circle cx="269.4" cy="571.2" r="2.45" fill="#4876FF"/>
<circle cx="275.6" cy="584.4" r="2.45" fill="#4876FF"/>
<path d="M187.2 501.03 L189.41 502.59 L191.62 504.13 L193.83 505.67 L196.04 507.19 L198.25 508.69 L200.46 510.17 L202.67 511.64 L204.88 513.08 L207.09 514.5 L209.3 515.9 L211.51 517.26 L213.72 518.59 L215.93 519.89 L218.14 521.14 L220.35 522.36 L222.56 523.53 L224.77 524.65 L226.98 525.72 L229.19 526.74 L231.4 527.71 L233.61 528.63 L235.82 529.5 L238.03 530.32 L240.24 531.1 L242.45 531.83 L244.66 532.51 L246.87 533.16 L249.08 533.78 L251.29 534.36 L253.5 534.91 L255.71 535.44 L257.92 535.94 L260.13 536.42 L262.34 536.89 L264.55 537.33 L266.76 537.76 L268.97 538.17 L271.18 538.58 L273.39 538.97 L275.6 539.35 L275.6 575.65 L273.39 574.08 L271.18 572.52 L268.97 570.98 L266.76 569.44 L264.55 567.92 L262.34 566.41 L260.13 564.93 L257.92 563.46 L255.71 562.01 L253.5 560.59 L251.29 559.19 L249.08 557.82 L246.87 556.49 L244.66 555.19 L242.45 553.92 L240.24 552.7 L238.03 551.53 L235.82 550.4 L233.61 549.32 L231.4 548.29 L229.19 547.31 L226.98 546.38 L224.77 545.5 L222.56 544.67 L220.35 543.89 L218.14 543.16 L215.93 542.46 L213.72 541.81 L211.51 541.19 L209.3 540.6 L207.09 540.05 L204.88 539.52 L202.67 539.01 L200.46 538.53 L198.25 538.06 L196.04 537.61 L193.83 537.18 L191.62 536.77 L189.41 536.36 L187.2 535.97 Z" fill="#B4B4B4" fill-opacity="0.35"/>
<line x1="183.2" y1="537.3" x2="279.8" y2="537.3" stroke="#7A7A7A" stroke-width="1.25"/>
<line x1="187.2" y1="518.5" x2="275.6" y2="557.5" stroke="#000" stroke-width="1.5"/>
</g>
<rect x="183.2" y="473.2" width="96.6" height="22.1" fill="#D9D9D9"/>
<text x="231" y="488.95" font-size="11.5" fill="#262626" text-anchor="middle">TG 56:8</text>
<line x1="179.6" y1="513.8" x2="183.2" y2="513.8" stroke="#333333" stroke-width="1.1"/>
<text x="176.3" y="518.1" font-size="12" fill="#4D4D4D" text-anchor="end">0.5</text>
<line x1="179.6" y1="537.3" x2="183.2" y2="537.3" stroke="#333333" stroke-width="1.1"/>
<text x="176.3" y="541.6" font-size="12" fill="#4D4D4D" text-anchor="end">0.0</text>
<line x1="179.6" y1="560.8" x2="183.2" y2="560.8" stroke="#333333" stroke-width="1.1"/>
<text x="176.3" y="565.1" font-size="12" fill="#4D4D4D" text-anchor="end">-0.5</text>
<line x1="179.6" y1="584.3" x2="183.2" y2="584.3" stroke="#333333" stroke-width="1.1"/>
<text x="176.3" y="588.6" font-size="12" fill="#4D4D4D" text-anchor="end">-1.0</text>
<line x1="196.9" y1="588.2" x2="196.9" y2="591.8" stroke="#333333" stroke-width="1.1"/>
<text x="196.9" y="604" font-size="12" fill="#4D4D4D" text-anchor="middle">6</text>
<line x1="217.08" y1="588.2" x2="217.08" y2="591.8" stroke="#333333" stroke-width="1.1"/>
<text x="217.08" y="604" font-size="12" fill="#4D4D4D" text-anchor="middle">7</text>
<line x1="237.25" y1="588.2" x2="237.25" y2="591.8" stroke="#333333" stroke-width="1.1"/>
<text x="237.25" y="604" font-size="12" fill="#4D4D4D" text-anchor="middle">8</text>
<line x1="257.43" y1="588.2" x2="257.43" y2="591.8" stroke="#333333" stroke-width="1.1"/>
<text x="257.43" y="604" font-size="12" fill="#4D4D4D" text-anchor="middle">9</text>
<line x1="277.6" y1="588.2" x2="277.6" y2="591.8" stroke="#333333" stroke-width="1.1"/>
<text x="277.6" y="604" font-size="12" fill="#4D4D4D" text-anchor="middle">10</text>
<clipPath id="c17"><rect x="314.9" y="495.3" width="97.4" height="92.5"/></clipPath>
<g clip-path="url(#c17)">
<rect x="314.9" y="495.3" width="97.4" height="92.5" fill="#EBEBEB"/>
<line x1="319.06" y1="495.3" x2="319.06" y2="587.8" stroke="#fff" stroke-width="0.7"/>
<line x1="339.14" y1="495.3" x2="339.14" y2="587.8" stroke="#fff" stroke-width="0.7"/>
<line x1="359.21" y1="495.3" x2="359.21" y2="587.8" stroke="#fff" stroke-width="0.7"/>
<line x1="379.29" y1="495.3" x2="379.29" y2="587.8" stroke="#fff" stroke-width="0.7"/>
<line x1="399.36" y1="495.3" x2="399.36" y2="587.8" stroke="#fff" stroke-width="0.7"/>
<line x1="419.44" y1="495.3" x2="419.44" y2="587.8" stroke="#fff" stroke-width="0.7"/>
<line x1="314.9" y1="490.48" x2="412.3" y2="490.48" stroke="#fff" stroke-width="0.7"/>
<line x1="314.9" y1="508.53" x2="412.3" y2="508.53" stroke="#fff" stroke-width="0.7"/>
<line x1="314.9" y1="526.58" x2="412.3" y2="526.58" stroke="#fff" stroke-width="0.7"/>
<line x1="314.9" y1="544.62" x2="412.3" y2="544.62" stroke="#fff" stroke-width="0.7"/>
<line x1="314.9" y1="562.68" x2="412.3" y2="562.68" stroke="#fff" stroke-width="0.7"/>
<line x1="314.9" y1="580.73" x2="412.3" y2="580.73" stroke="#fff" stroke-width="0.7"/>
<line x1="314.9" y1="598.77" x2="412.3" y2="598.77" stroke="#fff" stroke-width="0.7"/>
<line x1="309.03" y1="495.3" x2="309.03" y2="587.8" stroke="#fff" stroke-width="1.35"/>
<line x1="329.1" y1="495.3" x2="329.1" y2="587.8" stroke="#fff" stroke-width="1.35"/>
<line x1="349.18" y1="495.3" x2="349.18" y2="587.8" stroke="#fff" stroke-width="1.35"/>
<line x1="369.25" y1="495.3" x2="369.25" y2="587.8" stroke="#fff" stroke-width="1.35"/>
<line x1="389.32" y1="495.3" x2="389.32" y2="587.8" stroke="#fff" stroke-width="1.35"/>
<line x1="409.4" y1="495.3" x2="409.4" y2="587.8" stroke="#fff" stroke-width="1.35"/>
<line x1="429.47" y1="495.3" x2="429.47" y2="587.8" stroke="#fff" stroke-width="1.35"/>
<line x1="314.9" y1="481.45" x2="412.3" y2="481.45" stroke="#fff" stroke-width="1.35"/>
<line x1="314.9" y1="499.5" x2="412.3" y2="499.5" stroke="#fff" stroke-width="1.35"/>
<line x1="314.9" y1="517.55" x2="412.3" y2="517.55" stroke="#fff" stroke-width="1.35"/>
<line x1="314.9" y1="535.6" x2="412.3" y2="535.6" stroke="#fff" stroke-width="1.35"/>
<line x1="314.9" y1="553.65" x2="412.3" y2="553.65" stroke="#fff" stroke-width="1.35"/>
<line x1="314.9" y1="571.7" x2="412.3" y2="571.7" stroke="#fff" stroke-width="1.35"/>
<line x1="314.9" y1="589.75" x2="412.3" y2="589.75" stroke="#fff" stroke-width="1.35"/>
<circle cx="343.5" cy="499.7" r="2.45" fill="#000000"/>
<circle cx="325.3" cy="503.3" r="2.45" fill="#4876FF"/>
<circle cx="321.1" cy="510.1" r="2.45" fill="#000000"/>
<circle cx="349.5" cy="511" r="2.45" fill="#000000"/>
<circle cx="357.4" cy="524.5" r="2.45" fill="#000000"/>
<circle cx="381.5" cy="531.8" r="2.45" fill="#4876FF"/>
<circle cx="327.1" cy="532.2" r="2.45" fill="#000000"/>
<circle cx="407.6" cy="537.3" r="2.45" fill="#FF1493"/>
<circle cx="319.2" cy="539.8" r="2.45" fill="#FF1493"/>
<circle cx="365.4" cy="538.7" r="2.45" fill="#4876FF"/>
<circle cx="399.7" cy="542.9" r="2.45" fill="#FF1493"/>
<circle cx="359.4" cy="548.4" r="2.45" fill="#FF1493"/>
<circle cx="325.3" cy="551.7" r="2.45" fill="#FF1493"/>
<circle cx="401.7" cy="552.6" r="2.45" fill="#4876FF"/>
<circle cx="369.4" cy="557" r="2.45" fill="#4876FF"/>
<circle cx="395.5" cy="576.7" r="2.45" fill="#FF1493"/>
<circle cx="407.6" cy="584.4" r="2.45" fill="#4876FF"/>
<path d="M319.2 502.31 L321.41 503.83 L323.62 505.34 L325.83 506.84 L328.04 508.32 L330.25 509.79 L332.46 511.24 L334.67 512.68 L336.88 514.09 L339.09 515.48 L341.3 516.85 L343.51 518.19 L345.72 519.49 L347.93 520.77 L350.14 522.01 L352.35 523.21 L354.56 524.36 L356.77 525.48 L358.98 526.54 L361.19 527.56 L363.4 528.53 L365.61 529.46 L367.82 530.33 L370.03 531.16 L372.24 531.95 L374.45 532.69 L376.66 533.4 L378.87 534.07 L381.08 534.71 L383.29 535.32 L385.5 535.9 L387.71 536.45 L389.92 536.99 L392.13 537.5 L394.34 537.99 L396.55 538.47 L398.76 538.93 L400.97 539.38 L403.18 539.82 L405.39 540.25 L407.6 540.67 L407.6 574.73 L405.39 573.2 L403.18 571.68 L400.97 570.17 L398.76 568.67 L396.55 567.18 L394.34 565.71 L392.13 564.25 L389.92 562.81 L387.71 561.4 L385.5 560 L383.29 558.63 L381.08 557.29 L378.87 555.98 L376.66 554.7 L374.45 553.46 L372.24 552.25 L370.03 551.09 L367.82 549.97 L365.61 548.89 L363.4 547.87 L361.19 546.89 L358.98 545.96 L356.77 545.07 L354.56 544.24 L352.35 543.44 L350.14 542.69 L347.93 541.98 L345.72 541.31 L343.51 540.66 L341.3 540.05 L339.09 539.47 L336.88 538.91 L334.67 538.37 L332.46 537.86 L330.25 537.36 L328.04 536.88 L325.83 536.41 L323.62 535.96 L321.41 535.52 L319.2 535.09 Z" fill="#B4B4B4" fill-opacity="0.35"/>
<line x1="314.9" y1="535.6" x2="412.3" y2="535.6" stroke="#7A7A7A" stroke-width="1.25"/>
<line x1="319.2" y1="518.7" x2="407.6" y2="557.7" stroke="#000" stroke-width="1.5"/>
</g>
<rect x="314.9" y="473.2" width="97.4" height="22.1" fill="#D9D9D9"/>
<text x="363" y="488.95" font-size="11.5" fill="#262626" text-anchor="middle">TG 56:9</text>
<line x1="311.3" y1="499.5" x2="314.9" y2="499.5" stroke="#333333" stroke-width="1.1"/>
<text x="308" y="503.8" font-size="12" fill="#4D4D4D" text-anchor="end">1.0</text>
<line x1="311.3" y1="517.55" x2="314.9" y2="517.55" stroke="#333333" stroke-width="1.1"/>
<text x="308" y="521.85" font-size="12" fill="#4D4D4D" text-anchor="end">0.5</text>
<line x1="311.3" y1="535.6" x2="314.9" y2="535.6" stroke="#333333" stroke-width="1.1"/>
<text x="308" y="539.9" font-size="12" fill="#4D4D4D" text-anchor="end">0.0</text>
<line x1="311.3" y1="553.65" x2="314.9" y2="553.65" stroke="#333333" stroke-width="1.1"/>
<text x="308" y="557.95" font-size="12" fill="#4D4D4D" text-anchor="end">-0.5</text>
<line x1="311.3" y1="571.7" x2="314.9" y2="571.7" stroke="#333333" stroke-width="1.1"/>
<text x="308" y="576" font-size="12" fill="#4D4D4D" text-anchor="end">-1.0</text>
<line x1="329.1" y1="587.8" x2="329.1" y2="591.4" stroke="#333333" stroke-width="1.1"/>
<text x="329.1" y="603.6" font-size="12" fill="#4D4D4D" text-anchor="middle">6</text>
<line x1="349.18" y1="587.8" x2="349.18" y2="591.4" stroke="#333333" stroke-width="1.1"/>
<text x="349.18" y="603.6" font-size="12" fill="#4D4D4D" text-anchor="middle">7</text>
<line x1="369.25" y1="587.8" x2="369.25" y2="591.4" stroke="#333333" stroke-width="1.1"/>
<text x="369.25" y="603.6" font-size="12" fill="#4D4D4D" text-anchor="middle">8</text>
<line x1="389.32" y1="587.8" x2="389.32" y2="591.4" stroke="#333333" stroke-width="1.1"/>
<text x="389.32" y="603.6" font-size="12" fill="#4D4D4D" text-anchor="middle">9</text>
<line x1="409.4" y1="587.8" x2="409.4" y2="591.4" stroke="#333333" stroke-width="1.1"/>
<text x="409.4" y="603.6" font-size="12" fill="#4D4D4D" text-anchor="middle">10</text>
<clipPath id="c18"><rect x="446.9" y="495.3" width="96.9" height="92.5"/></clipPath>
<g clip-path="url(#c18)">
<rect x="446.9" y="495.3" width="96.9" height="92.5" fill="#EBEBEB"/>
<line x1="451.06" y1="495.3" x2="451.06" y2="587.8" stroke="#fff" stroke-width="0.7"/>
<line x1="471.14" y1="495.3" x2="471.14" y2="587.8" stroke="#fff" stroke-width="0.7"/>
<line x1="491.21" y1="495.3" x2="491.21" y2="587.8" stroke="#fff" stroke-width="0.7"/>
<line x1="511.29" y1="495.3" x2="511.29" y2="587.8" stroke="#fff" stroke-width="0.7"/>
<line x1="531.36" y1="495.3" x2="531.36" y2="587.8" stroke="#fff" stroke-width="0.7"/>
<line x1="551.44" y1="495.3" x2="551.44" y2="587.8" stroke="#fff" stroke-width="0.7"/>
<line x1="446.9" y1="489.25" x2="543.8" y2="489.25" stroke="#fff" stroke-width="0.7"/>
<line x1="446.9" y1="508.75" x2="543.8" y2="508.75" stroke="#fff" stroke-width="0.7"/>
<line x1="446.9" y1="528.25" x2="543.8" y2="528.25" stroke="#fff" stroke-width="0.7"/>
<line x1="446.9" y1="547.75" x2="543.8" y2="547.75" stroke="#fff" stroke-width="0.7"/>
<line x1="446.9" y1="567.25" x2="543.8" y2="567.25" stroke="#fff" stroke-width="0.7"/>
<line x1="446.9" y1="586.75" x2="543.8" y2="586.75" stroke="#fff" stroke-width="0.7"/>
<line x1="446.9" y1="606.25" x2="543.8" y2="606.25" stroke="#fff" stroke-width="0.7"/>
<line x1="441.03" y1="495.3" x2="441.03" y2="587.8" stroke="#fff" stroke-width="1.35"/>
<line x1="461.1" y1="495.3" x2="461.1" y2="587.8" stroke="#fff" stroke-width="1.35"/>
<line x1="481.18" y1="495.3" x2="481.18" y2="587.8" stroke="#fff" stroke-width="1.35"/>
<line x1="501.25" y1="495.3" x2="501.25" y2="587.8" stroke="#fff" stroke-width="1.35"/>
<line x1="521.33" y1="495.3" x2="521.33" y2="587.8" stroke="#fff" stroke-width="1.35"/>
<line x1="541.4" y1="495.3" x2="541.4" y2="587.8" stroke="#fff" stroke-width="1.35"/>
<line x1="561.47" y1="495.3" x2="561.47" y2="587.8" stroke="#fff" stroke-width="1.35"/>
<line x1="446.9" y1="479.5" x2="543.8" y2="479.5" stroke="#fff" stroke-width="1.35"/>
<line x1="446.9" y1="499" x2="543.8" y2="499" stroke="#fff" stroke-width="1.35"/>
<line x1="446.9" y1="518.5" x2="543.8" y2="518.5" stroke="#fff" stroke-width="1.35"/>
<line x1="446.9" y1="538" x2="543.8" y2="538" stroke="#fff" stroke-width="1.35"/>
<line x1="446.9" y1="557.5" x2="543.8" y2="557.5" stroke="#fff" stroke-width="1.35"/>
<line x1="446.9" y1="577" x2="543.8" y2="577" stroke="#fff" stroke-width="1.35"/>
<line x1="446.9" y1="596.5" x2="543.8" y2="596.5" stroke="#fff" stroke-width="1.35"/>
<circle cx="453.1" cy="500" r="2.45" fill="#000000"/>
<circle cx="475.3" cy="502.6" r="2.45" fill="#000000"/>
<circle cx="489.4" cy="511.9" r="2.45" fill="#000000"/>
<circle cx="457.1" cy="511" r="2.45" fill="#4876FF"/>
<circle cx="513.5" cy="524.7" r="2.45" fill="#4876FF"/>
<circle cx="481.2" cy="527.6" r="2.45" fill="#000000"/>
<circle cx="450.9" cy="530.9" r="2.45" fill="#FF1493"/>
<circle cx="539.6" cy="535.8" r="2.45" fill="#FF1493"/>
<circle cx="457.1" cy="538.4" r="2.45" fill="#FF1493"/>
<circle cx="459.1" cy="542.6" r="2.45" fill="#000000"/>
<circle cx="491.4" cy="546.4" r="2.45" fill="#FF1493"/>
<circle cx="497.4" cy="544" r="2.45" fill="#4876FF"/>
<circle cx="533.6" cy="550.2" r="2.45" fill="#4876FF"/>
<circle cx="527.7" cy="558.3" r="2.45" fill="#FF1493"/>
<circle cx="531.7" cy="555.7" r="2.45" fill="#FF1493"/>
<circle cx="501.4" cy="564.5" r="2.45" fill="#4876FF"/>
<circle cx="539.6" cy="584.4" r="2.45" fill="#4876FF"/>
<path d="M450.9 501.51 L453.12 503.03 L455.33 504.54 L457.55 506.03 L459.77 507.52 L461.99 508.98 L464.2 510.44 L466.42 511.87 L468.64 513.28 L470.86 514.67 L473.07 516.04 L475.29 517.37 L477.51 518.68 L479.73 519.95 L481.94 521.18 L484.16 522.38 L486.38 523.53 L488.6 524.64 L490.81 525.7 L493.03 526.72 L495.25 527.68 L497.47 528.6 L499.69 529.47 L501.9 530.29 L504.12 531.07 L506.34 531.81 L508.56 532.51 L510.77 533.17 L512.99 533.79 L515.21 534.39 L517.42 534.96 L519.64 535.5 L521.86 536.02 L524.08 536.53 L526.3 537.01 L528.51 537.47 L530.73 537.92 L532.95 538.36 L535.16 538.79 L537.38 539.2 L539.6 539.6 L539.6 574 L537.38 572.46 L535.16 570.94 L532.95 569.43 L530.73 567.94 L528.51 566.45 L526.3 564.98 L524.08 563.53 L521.86 562.1 L519.64 560.68 L517.42 559.29 L515.21 557.92 L512.99 556.59 L510.77 555.28 L508.56 554 L506.34 552.77 L504.12 551.57 L501.9 550.41 L499.69 549.3 L497.47 548.23 L495.25 547.22 L493.03 546.25 L490.81 545.33 L488.6 544.45 L486.38 543.63 L484.16 542.84 L481.94 542.11 L479.73 541.41 L477.51 540.74 L475.29 540.11 L473.07 539.51 L470.86 538.94 L468.64 538.4 L466.42 537.88 L464.2 537.37 L461.99 536.89 L459.77 536.42 L457.55 535.97 L455.33 535.53 L453.12 535.11 L450.9 534.69 Z" fill="#B4B4B4" fill-opacity="0.35"/>
<line x1="446.9" y1="538" x2="543.8" y2="538" stroke="#7A7A7A" stroke-width="1.25"/>
<line x1="450.9" y1="518.1" x2="539.6" y2="556.8" stroke="#000" stroke-width="1.5"/>
</g>
<rect x="446.9" y="473.2" width="96.9" height="22.1" fill="#D9D9D9"/>
<text x="493.4" y="488.95" font-size="11.5" fill="#262626" text-anchor="middle">TG 58:10</text>
<line x1="443.3" y1="499" x2="446.9" y2="499" stroke="#333333" stroke-width="1.1"/>
<text x="440" y="503.3" font-size="12" fill="#4D4D4D" text-anchor="end">1.0</text>
<line x1="443.3" y1="518.5" x2="446.9" y2="518.5" stroke="#333333" stroke-width="1.1"/>
<text x="440" y="522.8" font-size="12" fill="#4D4D4D" text-anchor="end">0.5</text>
<line x1="443.3" y1="538" x2="446.9" y2="538" stroke="#333333" stroke-width="1.1"/>
<text x="440" y="542.3" font-size="12" fill="#4D4D4D" text-anchor="end">0.0</text>
<line x1="443.3" y1="557.5" x2="446.9" y2="557.5" stroke="#333333" stroke-width="1.1"/>
<text x="440" y="561.8" font-size="12" fill="#4D4D4D" text-anchor="end">-0.5</text>
<line x1="443.3" y1="577" x2="446.9" y2="577" stroke="#333333" stroke-width="1.1"/>
<text x="440" y="581.3" font-size="12" fill="#4D4D4D" text-anchor="end">-1.0</text>
<line x1="461.1" y1="587.8" x2="461.1" y2="591.4" stroke="#333333" stroke-width="1.1"/>
<text x="461.1" y="603.6" font-size="12" fill="#4D4D4D" text-anchor="middle">6</text>
<line x1="481.18" y1="587.8" x2="481.18" y2="591.4" stroke="#333333" stroke-width="1.1"/>
<text x="481.18" y="603.6" font-size="12" fill="#4D4D4D" text-anchor="middle">7</text>
<line x1="501.25" y1="587.8" x2="501.25" y2="591.4" stroke="#333333" stroke-width="1.1"/>
<text x="501.25" y="603.6" font-size="12" fill="#4D4D4D" text-anchor="middle">8</text>
<line x1="521.33" y1="587.8" x2="521.33" y2="591.4" stroke="#333333" stroke-width="1.1"/>
<text x="521.33" y="603.6" font-size="12" fill="#4D4D4D" text-anchor="middle">9</text>
<line x1="541.4" y1="587.8" x2="541.4" y2="591.4" stroke="#333333" stroke-width="1.1"/>
<text x="541.4" y="603.6" font-size="12" fill="#4D4D4D" text-anchor="middle">10</text>
<clipPath id="c19"><rect x="581.2" y="493.6" width="96.7" height="93.5"/></clipPath>
<g clip-path="url(#c19)">
<rect x="581.2" y="493.6" width="96.7" height="93.5" fill="#EBEBEB"/>
<line x1="585.35" y1="493.6" x2="585.35" y2="587.1" stroke="#fff" stroke-width="0.7"/>
<line x1="605.45" y1="493.6" x2="605.45" y2="587.1" stroke="#fff" stroke-width="0.7"/>
<line x1="625.55" y1="493.6" x2="625.55" y2="587.1" stroke="#fff" stroke-width="0.7"/>
<line x1="645.65" y1="493.6" x2="645.65" y2="587.1" stroke="#fff" stroke-width="0.7"/>
<line x1="665.75" y1="493.6" x2="665.75" y2="587.1" stroke="#fff" stroke-width="0.7"/>
<line x1="685.85" y1="493.6" x2="685.85" y2="587.1" stroke="#fff" stroke-width="0.7"/>
<line x1="581.2" y1="487.55" x2="677.9" y2="487.55" stroke="#fff" stroke-width="0.7"/>
<line x1="581.2" y1="518.05" x2="677.9" y2="518.05" stroke="#fff" stroke-width="0.7"/>
<line x1="581.2" y1="548.55" x2="677.9" y2="548.55" stroke="#fff" stroke-width="0.7"/>
<line x1="581.2" y1="579.05" x2="677.9" y2="579.05" stroke="#fff" stroke-width="0.7"/>
<line x1="581.2" y1="609.55" x2="677.9" y2="609.55" stroke="#fff" stroke-width="0.7"/>
<line x1="575.3" y1="493.6" x2="575.3" y2="587.1" stroke="#fff" stroke-width="1.35"/>
<line x1="595.4" y1="493.6" x2="595.4" y2="587.1" stroke="#fff" stroke-width="1.35"/>
<line x1="615.5" y1="493.6" x2="615.5" y2="587.1" stroke="#fff" stroke-width="1.35"/>
<line x1="635.6" y1="493.6" x2="635.6" y2="587.1" stroke="#fff" stroke-width="1.35"/>
<line x1="655.7" y1="493.6" x2="655.7" y2="587.1" stroke="#fff" stroke-width="1.35"/>
<line x1="675.8" y1="493.6" x2="675.8" y2="587.1" stroke="#fff" stroke-width="1.35"/>
<line x1="695.9" y1="493.6" x2="695.9" y2="587.1" stroke="#fff" stroke-width="1.35"/>
<line x1="581.2" y1="472.3" x2="677.9" y2="472.3" stroke="#fff" stroke-width="1.35"/>
<line x1="581.2" y1="502.8" x2="677.9" y2="502.8" stroke="#fff" stroke-width="1.35"/>
<line x1="581.2" y1="533.3" x2="677.9" y2="533.3" stroke="#fff" stroke-width="1.35"/>
<line x1="581.2" y1="563.8" x2="677.9" y2="563.8" stroke="#fff" stroke-width="1.35"/>
<line x1="581.2" y1="594.3" x2="677.9" y2="594.3" stroke="#fff" stroke-width="1.35"/>
<circle cx="585.4" cy="502.6" r="2.45" fill="#FF1493"/>
<circle cx="587.6" cy="507.6" r="2.45" fill="#000000"/>
<circle cx="591.8" cy="509.7" r="2.45" fill="#4876FF"/>
<circle cx="609.6" cy="502.6" r="2.45" fill="#000000"/>
<circle cx="623.6" cy="511.3" r="2.45" fill="#000000"/>
<circle cx="647.4" cy="517.7" r="2.45" fill="#4876FF"/>
<circle cx="674" cy="530" r="2.45" fill="#FF1493"/>
<circle cx="593.6" cy="533.3" r="2.45" fill="#000000"/>
<circle cx="615.6" cy="532.8" r="2.45" fill="#000000"/>
<circle cx="631.6" cy="533.7" r="2.45" fill="#4876FF"/>
<circle cx="591.8" cy="537.8" r="2.45" fill="#FF1493"/>
<circle cx="665.7" cy="537.8" r="2.45" fill="#FF1493"/>
<circle cx="635.7" cy="542.2" r="2.45" fill="#4876FF"/>
<circle cx="625.7" cy="552.3" r="2.45" fill="#FF1493"/>
<circle cx="661.6" cy="550.2" r="2.45" fill="#FF1493"/>
<circle cx="667.8" cy="551.8" r="2.45" fill="#4876FF"/>
<circle cx="674" cy="583.2" r="2.45" fill="#4876FF"/>
<path d="M585.8 498.63 L588 500.05 L590.21 501.46 L592.41 502.86 L594.62 504.25 L596.82 505.62 L599.03 506.98 L601.24 508.32 L603.44 509.64 L605.64 510.94 L607.85 512.21 L610.05 513.46 L612.26 514.68 L614.46 515.87 L616.67 517.03 L618.88 518.15 L621.08 519.23 L623.28 520.26 L625.49 521.26 L627.69 522.21 L629.9 523.12 L632.11 523.98 L634.31 524.8 L636.51 525.57 L638.72 526.31 L640.92 527.01 L643.13 527.67 L645.34 528.3 L647.54 528.89 L649.75 529.46 L651.95 530.01 L654.15 530.53 L656.36 531.03 L658.56 531.52 L660.77 531.98 L662.98 532.44 L665.18 532.87 L667.38 533.3 L669.59 533.72 L671.79 534.12 L674 534.52 L674 566.28 L671.79 564.85 L669.59 563.42 L667.38 562.01 L665.18 560.61 L662.98 559.21 L660.77 557.84 L658.56 556.47 L656.36 555.13 L654.15 553.8 L651.95 552.49 L649.75 551.21 L647.54 549.95 L645.34 548.71 L643.13 547.51 L640.92 546.34 L638.72 545.21 L636.51 544.12 L634.31 543.06 L632.11 542.05 L629.9 541.08 L627.69 540.16 L625.49 539.28 L623.28 538.45 L621.08 537.65 L618.88 536.9 L616.67 536.19 L614.46 535.52 L612.26 534.88 L610.05 534.27 L607.85 533.69 L605.64 533.13 L603.44 532.6 L601.24 532.09 L599.03 531.6 L596.82 531.13 L594.62 530.67 L592.41 530.23 L590.21 529.8 L588 529.38 L585.8 528.97 Z" fill="#B4B4B4" fill-opacity="0.35"/>
<line x1="581.2" y1="533.3" x2="677.9" y2="533.3" stroke="#7A7A7A" stroke-width="1.25"/>
<line x1="585.8" y1="513.8" x2="674" y2="550.4" stroke="#000" stroke-width="1.5"/>
</g>
<rect x="581.2" y="471.9" width="96.7" height="21.7" fill="#D9D9D9"/>
<text x="629.5" y="487.45" font-size="11.5" fill="#262626" text-anchor="middle">TG 58:9</text>
<line x1="577.6" y1="502.8" x2="581.2" y2="502.8" stroke="#333333" stroke-width="1.1"/>
<text x="574.3" y="507.1" font-size="12" fill="#4D4D4D" text-anchor="end">1</text>
<line x1="577.6" y1="533.3" x2="581.2" y2="533.3" stroke="#333333" stroke-width="1.1"/>
<text x="574.3" y="537.6" font-size="12" fill="#4D4D4D" text-anchor="end">0</text>
<line x1="577.6" y1="563.8" x2="581.2" y2="563.8" stroke="#333333" stroke-width="1.1"/>
<text x="574.3" y="568.1" font-size="12" fill="#4D4D4D" text-anchor="end">-1</text>
<line x1="595.4" y1="587.1" x2="595.4" y2="590.7" stroke="#333333" stroke-width="1.1"/>
<text x="595.4" y="602.9" font-size="12" fill="#4D4D4D" text-anchor="middle">6</text>
<line x1="615.5" y1="587.1" x2="615.5" y2="590.7" stroke="#333333" stroke-width="1.1"/>
<text x="615.5" y="602.9" font-size="12" fill="#4D4D4D" text-anchor="middle">7</text>
<line x1="635.6" y1="587.1" x2="635.6" y2="590.7" stroke="#333333" stroke-width="1.1"/>
<text x="635.6" y="602.9" font-size="12" fill="#4D4D4D" text-anchor="middle">8</text>
<line x1="655.7" y1="587.1" x2="655.7" y2="590.7" stroke="#333333" stroke-width="1.1"/>
<text x="655.7" y="602.9" font-size="12" fill="#4D4D4D" text-anchor="middle">9</text>
<line x1="675.8" y1="587.1" x2="675.8" y2="590.7" stroke="#333333" stroke-width="1.1"/>
<text x="675.8" y="602.9" font-size="12" fill="#4D4D4D" text-anchor="middle">10</text>
<line x1="552.3" y1="135.8" x2="552.3" y2="140.6" stroke="#8A8A8A" stroke-width="0.7"/>
<text x="273.2" y="304.5" font-size="13.2" font-weight="bold" fill="#000" stroke="#000" stroke-width="0.35" textLength="175.4" lengthAdjust="spacingAndGlyphs">Fasting glycemia (mmol/L)</text>
<text x="257" y="628.2" font-size="13.2" font-weight="bold" fill="#000" stroke="#000" stroke-width="0.35" textLength="215.6" lengthAdjust="spacingAndGlyphs">2 h Post load glycemia (mmol/L)</text>
<text transform="translate(12.8,511.1) rotate(-90)" x="0" y="0" font-size="14.3" font-weight="bold" fill="#000" stroke="#000" stroke-width="0.3" textLength="435.7" lengthAdjust="spacingAndGlyphs">Myo-inositol response relative to control [=0], (log2-fold-change)</text>
</svg>
</body></html>
